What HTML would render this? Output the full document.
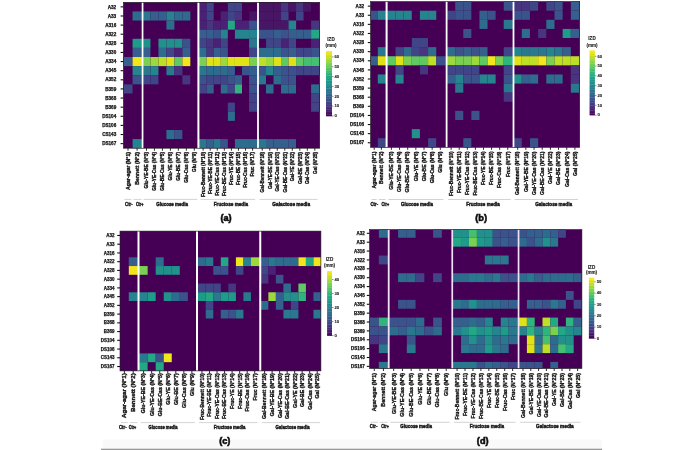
<!DOCTYPE html><html><head><meta charset="utf-8"><style>html,body{margin:0;padding:0;background:#fff;width:700px;height:450px;overflow:hidden}svg{display:block}text{font-family:"Liberation Sans",sans-serif}</style></head><body>
<svg width="700" height="450" viewBox="0 0 700 450">
<defs><linearGradient id="vir" x1="0" y1="1" x2="0" y2="0">
<stop offset="0.00" stop-color="#440154"/>
<stop offset="0.10" stop-color="#482475"/>
<stop offset="0.20" stop-color="#414487"/>
<stop offset="0.30" stop-color="#355f8d"/>
<stop offset="0.40" stop-color="#2a788e"/>
<stop offset="0.50" stop-color="#21918c"/>
<stop offset="0.60" stop-color="#22a884"/>
<stop offset="0.70" stop-color="#44bf70"/>
<stop offset="0.80" stop-color="#7ad151"/>
<stop offset="0.90" stop-color="#bddf26"/>
<stop offset="1.00" stop-color="#440256"/>
</linearGradient><filter id="bl" x="0" y="0" width="700" height="450" filterUnits="userSpaceOnUse"><feGaussianBlur stdDeviation="0.3"/></filter></defs>
<g filter="url(#bl)">
<rect x="0" y="0" width="700" height="450" fill="#fff"/>
<rect x="103" y="439.5" width="499" height="9.5" fill="#f9f9f9"/>
<rect x="101" y="448.7" width="501" height="1.3" fill="#999"/>
<g>
<rect x="123.4" y="2.3" width="196.3" height="145.9" fill="#440154"/>
<rect x="198.4" y="2.3" width="8.24" height="9.12" fill="#482475"/>
<rect x="206.64" y="2.3" width="7.07" height="9.12" fill="#414487"/>
<rect x="227.85" y="2.3" width="7.07" height="9.12" fill="#414487"/>
<rect x="234.93" y="2.3" width="7.07" height="9.12" fill="#414487"/>
<rect x="258" y="2.3" width="8.01" height="9.12" fill="#471365"/>
<rect x="266.01" y="2.3" width="7.51" height="9.12" fill="#471365"/>
<rect x="273.52" y="2.3" width="7.51" height="9.12" fill="#471365"/>
<rect x="281.04" y="2.3" width="7.51" height="9.12" fill="#463480"/>
<rect x="288.55" y="2.3" width="7.51" height="9.12" fill="#471365"/>
<rect x="296.06" y="2.3" width="7.51" height="9.12" fill="#463480"/>
<rect x="303.58" y="2.3" width="7.51" height="9.12" fill="#471365"/>
<rect x="132.55" y="11.42" width="10" height="9.12" fill="#2f6c8e"/>
<rect x="142.55" y="11.42" width="7.92" height="9.12" fill="#2a788e"/>
<rect x="150.47" y="11.42" width="7.97" height="9.12" fill="#355f8d"/>
<rect x="158.44" y="11.42" width="7.97" height="9.12" fill="#355f8d"/>
<rect x="166.41" y="11.42" width="7.97" height="9.12" fill="#25848e"/>
<rect x="174.39" y="11.42" width="7.97" height="9.12" fill="#2f6c8e"/>
<rect x="182.36" y="11.42" width="7.97" height="9.12" fill="#2f6c8e"/>
<rect x="198.4" y="11.42" width="8.24" height="9.12" fill="#482475"/>
<rect x="206.64" y="11.42" width="7.07" height="9.12" fill="#414487"/>
<rect x="220.78" y="11.42" width="7.07" height="9.12" fill="#482475"/>
<rect x="227.85" y="11.42" width="7.07" height="9.12" fill="#414487"/>
<rect x="234.93" y="11.42" width="7.07" height="9.12" fill="#463480"/>
<rect x="249.07" y="11.42" width="8.93" height="9.12" fill="#471365"/>
<rect x="258" y="11.42" width="8.01" height="9.12" fill="#471365"/>
<rect x="266.01" y="11.42" width="7.51" height="9.12" fill="#471365"/>
<rect x="273.52" y="11.42" width="7.51" height="9.12" fill="#471365"/>
<rect x="281.04" y="11.42" width="7.51" height="9.12" fill="#414487"/>
<rect x="296.06" y="11.42" width="7.51" height="9.12" fill="#414487"/>
<rect x="166.41" y="20.54" width="7.97" height="9.12" fill="#2f6c8e"/>
<rect x="198.4" y="20.54" width="8.24" height="9.12" fill="#482475"/>
<rect x="206.64" y="20.54" width="7.07" height="9.12" fill="#463480"/>
<rect x="213.71" y="20.54" width="7.07" height="9.12" fill="#482475"/>
<rect x="220.78" y="20.54" width="7.07" height="9.12" fill="#482475"/>
<rect x="227.85" y="20.54" width="7.07" height="9.12" fill="#22a884"/>
<rect x="234.93" y="20.54" width="7.07" height="9.12" fill="#482475"/>
<rect x="242" y="20.54" width="7.07" height="9.12" fill="#482475"/>
<rect x="249.07" y="20.54" width="8.93" height="9.12" fill="#3b528b"/>
<rect x="258" y="20.54" width="8.01" height="9.12" fill="#471365"/>
<rect x="266.01" y="20.54" width="7.51" height="9.12" fill="#471365"/>
<rect x="273.52" y="20.54" width="7.51" height="9.12" fill="#471365"/>
<rect x="281.04" y="20.54" width="7.51" height="9.12" fill="#471365"/>
<rect x="288.55" y="20.54" width="7.51" height="9.12" fill="#25848e"/>
<rect x="311.09" y="20.54" width="8.61" height="9.12" fill="#463480"/>
<rect x="198.4" y="29.66" width="8.24" height="9.12" fill="#355f8d"/>
<rect x="206.64" y="29.66" width="7.07" height="9.12" fill="#355f8d"/>
<rect x="213.71" y="29.66" width="7.07" height="9.12" fill="#3b528b"/>
<rect x="220.78" y="29.66" width="7.07" height="9.12" fill="#25848e"/>
<rect x="234.93" y="29.66" width="7.07" height="9.12" fill="#25848e"/>
<rect x="242" y="29.66" width="7.07" height="9.12" fill="#25848e"/>
<rect x="249.07" y="29.66" width="8.93" height="9.12" fill="#25848e"/>
<rect x="258" y="29.66" width="8.01" height="9.12" fill="#3b528b"/>
<rect x="266.01" y="29.66" width="7.51" height="9.12" fill="#3b528b"/>
<rect x="273.52" y="29.66" width="7.51" height="9.12" fill="#355f8d"/>
<rect x="281.04" y="29.66" width="7.51" height="9.12" fill="#3b528b"/>
<rect x="288.55" y="29.66" width="7.51" height="9.12" fill="#355f8d"/>
<rect x="296.06" y="29.66" width="7.51" height="9.12" fill="#355f8d"/>
<rect x="303.58" y="29.66" width="7.51" height="9.12" fill="#355f8d"/>
<rect x="311.09" y="29.66" width="8.61" height="9.12" fill="#22a884"/>
<rect x="132.55" y="38.77" width="10" height="9.12" fill="#1e9c89"/>
<rect x="142.55" y="38.77" width="7.92" height="9.12" fill="#21918c"/>
<rect x="158.44" y="38.77" width="7.97" height="9.12" fill="#21918c"/>
<rect x="166.41" y="38.77" width="7.97" height="9.12" fill="#21918c"/>
<rect x="174.39" y="38.77" width="7.97" height="9.12" fill="#21918c"/>
<rect x="182.36" y="38.77" width="7.97" height="9.12" fill="#3b528b"/>
<rect x="198.4" y="38.77" width="8.24" height="9.12" fill="#414487"/>
<rect x="206.64" y="38.77" width="7.07" height="9.12" fill="#463480"/>
<rect x="213.71" y="38.77" width="7.07" height="9.12" fill="#482475"/>
<rect x="220.78" y="38.77" width="7.07" height="9.12" fill="#414487"/>
<rect x="249.07" y="38.77" width="8.93" height="9.12" fill="#2a788e"/>
<rect x="266.01" y="38.77" width="7.51" height="9.12" fill="#414487"/>
<rect x="273.52" y="38.77" width="7.51" height="9.12" fill="#414487"/>
<rect x="281.04" y="38.77" width="7.51" height="9.12" fill="#482475"/>
<rect x="288.55" y="38.77" width="7.51" height="9.12" fill="#414487"/>
<rect x="311.09" y="38.77" width="8.61" height="9.12" fill="#482475"/>
<rect x="132.55" y="47.89" width="10" height="9.12" fill="#355f8d"/>
<rect x="142.55" y="47.89" width="7.92" height="9.12" fill="#355f8d"/>
<rect x="158.44" y="47.89" width="7.97" height="9.12" fill="#2f6c8e"/>
<rect x="166.41" y="47.89" width="7.97" height="9.12" fill="#414487"/>
<rect x="174.39" y="47.89" width="7.97" height="9.12" fill="#482475"/>
<rect x="182.36" y="47.89" width="7.97" height="9.12" fill="#355f8d"/>
<rect x="198.4" y="47.89" width="8.24" height="9.12" fill="#2f6c8e"/>
<rect x="206.64" y="47.89" width="7.07" height="9.12" fill="#463480"/>
<rect x="213.71" y="47.89" width="7.07" height="9.12" fill="#355f8d"/>
<rect x="220.78" y="47.89" width="7.07" height="9.12" fill="#3b528b"/>
<rect x="249.07" y="47.89" width="8.93" height="9.12" fill="#414487"/>
<rect x="258" y="47.89" width="8.01" height="9.12" fill="#2f6c8e"/>
<rect x="266.01" y="47.89" width="7.51" height="9.12" fill="#2f6c8e"/>
<rect x="273.52" y="47.89" width="7.51" height="9.12" fill="#2f6c8e"/>
<rect x="281.04" y="47.89" width="7.51" height="9.12" fill="#3b528b"/>
<rect x="288.55" y="47.89" width="7.51" height="9.12" fill="#355f8d"/>
<rect x="296.06" y="47.89" width="7.51" height="9.12" fill="#414487"/>
<rect x="303.58" y="47.89" width="7.51" height="9.12" fill="#414487"/>
<rect x="311.09" y="47.89" width="8.61" height="9.12" fill="#3b528b"/>
<rect x="123.4" y="57.01" width="9.15" height="9.12" fill="#355f8d"/>
<rect x="132.55" y="57.01" width="10" height="9.12" fill="#f1e51d"/>
<rect x="142.55" y="57.01" width="7.92" height="9.12" fill="#7ad151"/>
<rect x="150.47" y="57.01" width="7.97" height="9.12" fill="#9bd93c"/>
<rect x="158.44" y="57.01" width="7.97" height="9.12" fill="#bddf26"/>
<rect x="166.41" y="57.01" width="7.97" height="9.12" fill="#dfe318"/>
<rect x="174.39" y="57.01" width="7.97" height="9.12" fill="#5ec962"/>
<rect x="182.36" y="57.01" width="7.97" height="9.12" fill="#f1e51d"/>
<rect x="198.4" y="57.01" width="8.24" height="9.12" fill="#7ad151"/>
<rect x="206.64" y="57.01" width="7.07" height="9.12" fill="#dfe318"/>
<rect x="213.71" y="57.01" width="7.07" height="9.12" fill="#dfe318"/>
<rect x="220.78" y="57.01" width="7.07" height="9.12" fill="#9bd93c"/>
<rect x="227.85" y="57.01" width="7.07" height="9.12" fill="#dfe318"/>
<rect x="234.93" y="57.01" width="7.07" height="9.12" fill="#dfe318"/>
<rect x="242" y="57.01" width="7.07" height="9.12" fill="#dfe318"/>
<rect x="249.07" y="57.01" width="8.93" height="9.12" fill="#7ad151"/>
<rect x="258" y="57.01" width="8.01" height="9.12" fill="#bddf26"/>
<rect x="266.01" y="57.01" width="7.51" height="9.12" fill="#9bd93c"/>
<rect x="273.52" y="57.01" width="7.51" height="9.12" fill="#dfe318"/>
<rect x="281.04" y="57.01" width="7.51" height="9.12" fill="#5ec962"/>
<rect x="288.55" y="57.01" width="7.51" height="9.12" fill="#dfe318"/>
<rect x="296.06" y="57.01" width="7.51" height="9.12" fill="#5ec962"/>
<rect x="303.58" y="57.01" width="7.51" height="9.12" fill="#44bf70"/>
<rect x="311.09" y="57.01" width="8.61" height="9.12" fill="#44bf70"/>
<rect x="132.55" y="66.13" width="10" height="9.12" fill="#25848e"/>
<rect x="142.55" y="66.13" width="7.92" height="9.12" fill="#2a788e"/>
<rect x="150.47" y="66.13" width="7.97" height="9.12" fill="#25848e"/>
<rect x="166.41" y="66.13" width="7.97" height="9.12" fill="#2a788e"/>
<rect x="174.39" y="66.13" width="7.97" height="9.12" fill="#463480"/>
<rect x="198.4" y="66.13" width="8.24" height="9.12" fill="#2a788e"/>
<rect x="206.64" y="66.13" width="7.07" height="9.12" fill="#2f6c8e"/>
<rect x="213.71" y="66.13" width="7.07" height="9.12" fill="#2f6c8e"/>
<rect x="220.78" y="66.13" width="7.07" height="9.12" fill="#2f6c8e"/>
<rect x="227.85" y="66.13" width="7.07" height="9.12" fill="#355f8d"/>
<rect x="242" y="66.13" width="7.07" height="9.12" fill="#3b528b"/>
<rect x="249.07" y="66.13" width="8.93" height="9.12" fill="#355f8d"/>
<rect x="258" y="66.13" width="8.01" height="9.12" fill="#3b528b"/>
<rect x="266.01" y="66.13" width="7.51" height="9.12" fill="#25848e"/>
<rect x="273.52" y="66.13" width="7.51" height="9.12" fill="#355f8d"/>
<rect x="281.04" y="66.13" width="7.51" height="9.12" fill="#3b528b"/>
<rect x="288.55" y="66.13" width="7.51" height="9.12" fill="#3b528b"/>
<rect x="296.06" y="66.13" width="7.51" height="9.12" fill="#414487"/>
<rect x="303.58" y="66.13" width="7.51" height="9.12" fill="#414487"/>
<rect x="311.09" y="66.13" width="8.61" height="9.12" fill="#414487"/>
<rect x="132.55" y="75.25" width="10" height="9.12" fill="#3b528b"/>
<rect x="142.55" y="75.25" width="7.92" height="9.12" fill="#414487"/>
<rect x="150.47" y="75.25" width="7.97" height="9.12" fill="#414487"/>
<rect x="182.36" y="75.25" width="7.97" height="9.12" fill="#463480"/>
<rect x="198.4" y="75.25" width="8.24" height="9.12" fill="#3b528b"/>
<rect x="206.64" y="75.25" width="7.07" height="9.12" fill="#414487"/>
<rect x="213.71" y="75.25" width="7.07" height="9.12" fill="#414487"/>
<rect x="220.78" y="75.25" width="7.07" height="9.12" fill="#414487"/>
<rect x="227.85" y="75.25" width="7.07" height="9.12" fill="#3b528b"/>
<rect x="234.93" y="75.25" width="7.07" height="9.12" fill="#355f8d"/>
<rect x="249.07" y="75.25" width="8.93" height="9.12" fill="#3b528b"/>
<rect x="258" y="75.25" width="8.01" height="9.12" fill="#2a788e"/>
<rect x="273.52" y="75.25" width="7.51" height="9.12" fill="#2f6c8e"/>
<rect x="281.04" y="75.25" width="7.51" height="9.12" fill="#3b528b"/>
<rect x="288.55" y="75.25" width="7.51" height="9.12" fill="#3b528b"/>
<rect x="123.4" y="84.37" width="9.15" height="9.12" fill="#414487"/>
<rect x="198.4" y="84.37" width="8.24" height="9.12" fill="#414487"/>
<rect x="206.64" y="84.37" width="7.07" height="9.12" fill="#355f8d"/>
<rect x="220.78" y="84.37" width="7.07" height="9.12" fill="#2f6c8e"/>
<rect x="227.85" y="84.37" width="7.07" height="9.12" fill="#414487"/>
<rect x="234.93" y="84.37" width="7.07" height="9.12" fill="#2fb47c"/>
<rect x="249.07" y="84.37" width="8.93" height="9.12" fill="#3b528b"/>
<rect x="266.01" y="84.37" width="7.51" height="9.12" fill="#2f6c8e"/>
<rect x="281.04" y="84.37" width="7.51" height="9.12" fill="#2f6c8e"/>
<rect x="288.55" y="84.37" width="7.51" height="9.12" fill="#2f6c8e"/>
<rect x="311.09" y="84.37" width="8.61" height="9.12" fill="#2f6c8e"/>
<rect x="249.07" y="93.49" width="8.93" height="9.12" fill="#414487"/>
<rect x="311.09" y="93.49" width="8.61" height="9.12" fill="#414487"/>
<rect x="227.85" y="102.61" width="7.07" height="9.12" fill="#414487"/>
<rect x="249.07" y="102.61" width="8.93" height="9.12" fill="#414487"/>
<rect x="311.09" y="102.61" width="8.61" height="9.12" fill="#414487"/>
<rect x="227.85" y="111.72" width="7.07" height="9.12" fill="#2f6c8e"/>
<rect x="166.41" y="129.96" width="7.97" height="9.12" fill="#2f6c8e"/>
<rect x="174.39" y="129.96" width="7.97" height="9.12" fill="#3b528b"/>
<rect x="132.55" y="139.08" width="10" height="9.12" fill="#25848e"/>
<rect x="198.4" y="139.08" width="8.24" height="9.12" fill="#2a788e"/>
<rect x="206.64" y="139.08" width="7.07" height="9.12" fill="#355f8d"/>
<rect x="213.71" y="139.08" width="7.07" height="9.12" fill="#2a788e"/>
<rect x="220.78" y="139.08" width="7.07" height="9.12" fill="#3b528b"/>
<rect x="234.93" y="139.08" width="7.07" height="9.12" fill="#2f6c8e"/>
<rect x="242" y="139.08" width="7.07" height="9.12" fill="#2f6c8e"/>
<rect x="249.07" y="139.08" width="8.93" height="9.12" fill="#2f6c8e"/>
<rect x="258" y="139.08" width="8.01" height="9.12" fill="#2a788e"/>
<rect x="266.01" y="139.08" width="7.51" height="9.12" fill="#355f8d"/>
<rect x="273.52" y="139.08" width="7.51" height="9.12" fill="#355f8d"/>
<rect x="281.04" y="139.08" width="7.51" height="9.12" fill="#355f8d"/>
<rect x="288.55" y="139.08" width="7.51" height="9.12" fill="#355f8d"/>
<rect x="141.7" y="2.3" width="1.7" height="145.9" fill="#ffffff"/>
<rect x="197.4" y="2.3" width="2" height="145.9" fill="#ffffff"/>
<rect x="257.1" y="2.3" width="1.8" height="145.9" fill="#ffffff"/>
<rect x="123.4" y="2.3" width="196.3" height="145.9" fill="none" stroke="#1a1a1a" stroke-width="0.6"/>
<line x1="120.6" y1="6.86" x2="123.4" y2="6.86" stroke="#111" stroke-width="1.1"/>
<text x="116.2" y="8.52" font-size="4.6" font-weight="bold" fill="#111" stroke="#111" stroke-width="0.25" text-anchor="end">A32</text>
<line x1="120.6" y1="15.98" x2="123.4" y2="15.98" stroke="#111" stroke-width="1.1"/>
<text x="116.2" y="17.63" font-size="4.6" font-weight="bold" fill="#111" stroke="#111" stroke-width="0.25" text-anchor="end">A33</text>
<line x1="120.6" y1="25.1" x2="123.4" y2="25.1" stroke="#111" stroke-width="1.1"/>
<text x="116.2" y="26.75" font-size="4.6" font-weight="bold" fill="#111" stroke="#111" stroke-width="0.25" text-anchor="end">A316</text>
<line x1="120.6" y1="34.22" x2="123.4" y2="34.22" stroke="#111" stroke-width="1.1"/>
<text x="116.2" y="35.87" font-size="4.6" font-weight="bold" fill="#111" stroke="#111" stroke-width="0.25" text-anchor="end">A322</text>
<line x1="120.6" y1="43.33" x2="123.4" y2="43.33" stroke="#111" stroke-width="1.1"/>
<text x="116.2" y="44.99" font-size="4.6" font-weight="bold" fill="#111" stroke="#111" stroke-width="0.25" text-anchor="end">A328</text>
<line x1="120.6" y1="52.45" x2="123.4" y2="52.45" stroke="#111" stroke-width="1.1"/>
<text x="116.2" y="54.11" font-size="4.6" font-weight="bold" fill="#111" stroke="#111" stroke-width="0.25" text-anchor="end">A330</text>
<line x1="120.6" y1="61.57" x2="123.4" y2="61.57" stroke="#111" stroke-width="1.1"/>
<text x="116.2" y="63.23" font-size="4.6" font-weight="bold" fill="#111" stroke="#111" stroke-width="0.25" text-anchor="end">A334</text>
<line x1="120.6" y1="70.69" x2="123.4" y2="70.69" stroke="#111" stroke-width="1.1"/>
<text x="116.2" y="72.35" font-size="4.6" font-weight="bold" fill="#111" stroke="#111" stroke-width="0.25" text-anchor="end">A345</text>
<line x1="120.6" y1="79.81" x2="123.4" y2="79.81" stroke="#111" stroke-width="1.1"/>
<text x="116.2" y="81.47" font-size="4.6" font-weight="bold" fill="#111" stroke="#111" stroke-width="0.25" text-anchor="end">A352</text>
<line x1="120.6" y1="88.93" x2="123.4" y2="88.93" stroke="#111" stroke-width="1.1"/>
<text x="116.2" y="90.58" font-size="4.6" font-weight="bold" fill="#111" stroke="#111" stroke-width="0.25" text-anchor="end">B359</text>
<line x1="120.6" y1="98.05" x2="123.4" y2="98.05" stroke="#111" stroke-width="1.1"/>
<text x="116.2" y="99.7" font-size="4.6" font-weight="bold" fill="#111" stroke="#111" stroke-width="0.25" text-anchor="end">B368</text>
<line x1="120.6" y1="107.17" x2="123.4" y2="107.17" stroke="#111" stroke-width="1.1"/>
<text x="116.2" y="108.82" font-size="4.6" font-weight="bold" fill="#111" stroke="#111" stroke-width="0.25" text-anchor="end">B369</text>
<line x1="120.6" y1="116.28" x2="123.4" y2="116.28" stroke="#111" stroke-width="1.1"/>
<text x="116.2" y="117.94" font-size="4.6" font-weight="bold" fill="#111" stroke="#111" stroke-width="0.25" text-anchor="end">DS104</text>
<line x1="120.6" y1="125.4" x2="123.4" y2="125.4" stroke="#111" stroke-width="1.1"/>
<text x="116.2" y="127.06" font-size="4.6" font-weight="bold" fill="#111" stroke="#111" stroke-width="0.25" text-anchor="end">DS106</text>
<line x1="120.6" y1="134.52" x2="123.4" y2="134.52" stroke="#111" stroke-width="1.1"/>
<text x="116.2" y="136.18" font-size="4.6" font-weight="bold" fill="#111" stroke="#111" stroke-width="0.25" text-anchor="end">CS143</text>
<line x1="120.6" y1="143.64" x2="123.4" y2="143.64" stroke="#111" stroke-width="1.1"/>
<text x="116.2" y="145.3" font-size="4.6" font-weight="bold" fill="#111" stroke="#111" stroke-width="0.25" text-anchor="end">DS167</text>
<line x1="128" y1="148.2" x2="128" y2="150.7" stroke="#111" stroke-width="0.9"/>
<text transform="translate(129.76 152) rotate(-90)" font-size="4.9" font-weight="bold" fill="#151515" stroke="#151515" stroke-width="0.35" text-anchor="end" textLength="38" lengthAdjust="spacingAndGlyphs">Agar-agar (N°1)</text>
<line x1="137.1" y1="148.2" x2="137.1" y2="150.7" stroke="#111" stroke-width="0.9"/>
<text transform="translate(138.86 152) rotate(-90)" font-size="4.9" font-weight="bold" fill="#151515" stroke="#151515" stroke-width="0.35" text-anchor="end" textLength="32.7" lengthAdjust="spacingAndGlyphs">Bennett (N°2)</text>
<line x1="146.49" y1="148.2" x2="146.49" y2="150.7" stroke="#111" stroke-width="0.9"/>
<text transform="translate(148.25 152) rotate(-90)" font-size="4.9" font-weight="bold" fill="#151515" stroke="#151515" stroke-width="0.35" text-anchor="end" textLength="36.4" lengthAdjust="spacingAndGlyphs">Glu-YE-BE (N°3)</text>
<line x1="154.46" y1="148.2" x2="154.46" y2="150.7" stroke="#111" stroke-width="0.9"/>
<text transform="translate(156.22 152) rotate(-90)" font-size="4.9" font-weight="bold" fill="#151515" stroke="#151515" stroke-width="0.35" text-anchor="end" textLength="38.7" lengthAdjust="spacingAndGlyphs">Glu-YE-Cas (N°4)</text>
<line x1="162.43" y1="148.2" x2="162.43" y2="150.7" stroke="#111" stroke-width="0.9"/>
<text transform="translate(164.19 152) rotate(-90)" font-size="4.9" font-weight="bold" fill="#151515" stroke="#151515" stroke-width="0.35" text-anchor="end" textLength="38.7" lengthAdjust="spacingAndGlyphs">Glu-BE-Cas (N°5)</text>
<line x1="170.4" y1="148.2" x2="170.4" y2="150.7" stroke="#111" stroke-width="0.9"/>
<text transform="translate(172.16 152) rotate(-90)" font-size="4.9" font-weight="bold" fill="#151515" stroke="#151515" stroke-width="0.35" text-anchor="end" textLength="28.4" lengthAdjust="spacingAndGlyphs">Glu-YE (N°6)</text>
<line x1="178.37" y1="148.2" x2="178.37" y2="150.7" stroke="#111" stroke-width="0.9"/>
<text transform="translate(180.14 152) rotate(-90)" font-size="4.9" font-weight="bold" fill="#151515" stroke="#151515" stroke-width="0.35" text-anchor="end" textLength="28.7" lengthAdjust="spacingAndGlyphs">Glu-BE (N°7)</text>
<line x1="186.34" y1="148.2" x2="186.34" y2="150.7" stroke="#111" stroke-width="0.9"/>
<text transform="translate(188.11 152) rotate(-90)" font-size="4.9" font-weight="bold" fill="#151515" stroke="#151515" stroke-width="0.35" text-anchor="end" textLength="30.7" lengthAdjust="spacingAndGlyphs">Glu-Cas (N°8)</text>
<line x1="194.31" y1="148.2" x2="194.31" y2="150.7" stroke="#111" stroke-width="0.9"/>
<text transform="translate(196.08 152) rotate(-90)" font-size="4.9" font-weight="bold" fill="#151515" stroke="#151515" stroke-width="0.35" text-anchor="end" textLength="20" lengthAdjust="spacingAndGlyphs">Glu (N°9)</text>
<line x1="203.11" y1="148.2" x2="203.11" y2="150.7" stroke="#111" stroke-width="0.9"/>
<text transform="translate(204.87 152) rotate(-90)" font-size="4.9" font-weight="bold" fill="#151515" stroke="#151515" stroke-width="0.35" text-anchor="end" textLength="45.1" lengthAdjust="spacingAndGlyphs">Fruc-Bennett (N°10)</text>
<line x1="210.18" y1="148.2" x2="210.18" y2="150.7" stroke="#111" stroke-width="0.9"/>
<text transform="translate(211.94 152) rotate(-90)" font-size="4.9" font-weight="bold" fill="#151515" stroke="#151515" stroke-width="0.35" text-anchor="end" textLength="41.9" lengthAdjust="spacingAndGlyphs">Fruc-YE-BE (N°11)</text>
<line x1="217.25" y1="148.2" x2="217.25" y2="150.7" stroke="#111" stroke-width="0.9"/>
<text transform="translate(219.01 152) rotate(-90)" font-size="4.9" font-weight="bold" fill="#151515" stroke="#151515" stroke-width="0.35" text-anchor="end" textLength="43.8" lengthAdjust="spacingAndGlyphs">Fruc-YE-Cas (N°12)</text>
<line x1="224.32" y1="148.2" x2="224.32" y2="150.7" stroke="#111" stroke-width="0.9"/>
<text transform="translate(226.08 152) rotate(-90)" font-size="4.9" font-weight="bold" fill="#151515" stroke="#151515" stroke-width="0.35" text-anchor="end" textLength="44.1" lengthAdjust="spacingAndGlyphs">Fruc-BE-Cas (N°13)</text>
<line x1="231.39" y1="148.2" x2="231.39" y2="150.7" stroke="#111" stroke-width="0.9"/>
<text transform="translate(233.15 152) rotate(-90)" font-size="4.9" font-weight="bold" fill="#151515" stroke="#151515" stroke-width="0.35" text-anchor="end" textLength="33" lengthAdjust="spacingAndGlyphs">Fruc-YE (N°14)</text>
<line x1="238.46" y1="148.2" x2="238.46" y2="150.7" stroke="#111" stroke-width="0.9"/>
<text transform="translate(240.23 152) rotate(-90)" font-size="4.9" font-weight="bold" fill="#151515" stroke="#151515" stroke-width="0.35" text-anchor="end" textLength="33" lengthAdjust="spacingAndGlyphs">Fruc-BE (N°15)</text>
<line x1="245.53" y1="148.2" x2="245.53" y2="150.7" stroke="#111" stroke-width="0.9"/>
<text transform="translate(247.3 152) rotate(-90)" font-size="4.9" font-weight="bold" fill="#151515" stroke="#151515" stroke-width="0.35" text-anchor="end" textLength="35.8" lengthAdjust="spacingAndGlyphs">Fruc-Cas (N°16)</text>
<line x1="252.6" y1="148.2" x2="252.6" y2="150.7" stroke="#111" stroke-width="0.9"/>
<text transform="translate(254.37 152) rotate(-90)" font-size="4.9" font-weight="bold" fill="#151515" stroke="#151515" stroke-width="0.35" text-anchor="end" textLength="24.6" lengthAdjust="spacingAndGlyphs">Fruc (N°17)</text>
<line x1="262.26" y1="148.2" x2="262.26" y2="150.7" stroke="#111" stroke-width="0.9"/>
<text transform="translate(264.02 152) rotate(-90)" font-size="4.9" font-weight="bold" fill="#151515" stroke="#151515" stroke-width="0.35" text-anchor="end" textLength="40.4" lengthAdjust="spacingAndGlyphs">Gal-Bennett (N°18)</text>
<line x1="269.77" y1="148.2" x2="269.77" y2="150.7" stroke="#111" stroke-width="0.9"/>
<text transform="translate(271.53 152) rotate(-90)" font-size="4.9" font-weight="bold" fill="#151515" stroke="#151515" stroke-width="0.35" text-anchor="end" textLength="37.1" lengthAdjust="spacingAndGlyphs">Gal-YE-BE (N°19)</text>
<line x1="277.28" y1="148.2" x2="277.28" y2="150.7" stroke="#111" stroke-width="0.9"/>
<text transform="translate(279.05 152) rotate(-90)" font-size="4.9" font-weight="bold" fill="#151515" stroke="#151515" stroke-width="0.35" text-anchor="end" textLength="39.5" lengthAdjust="spacingAndGlyphs">Gal-YE-Cas (N°20)</text>
<line x1="284.79" y1="148.2" x2="284.79" y2="150.7" stroke="#111" stroke-width="0.9"/>
<text transform="translate(286.56 152) rotate(-90)" font-size="4.9" font-weight="bold" fill="#151515" stroke="#151515" stroke-width="0.35" text-anchor="end" textLength="40.4" lengthAdjust="spacingAndGlyphs">Gal-BE-Cas (N°21)</text>
<line x1="292.31" y1="148.2" x2="292.31" y2="150.7" stroke="#111" stroke-width="0.9"/>
<text transform="translate(294.07 152) rotate(-90)" font-size="4.9" font-weight="bold" fill="#151515" stroke="#151515" stroke-width="0.35" text-anchor="end" textLength="29.3" lengthAdjust="spacingAndGlyphs">Gal-YE (N°22)</text>
<line x1="299.82" y1="148.2" x2="299.82" y2="150.7" stroke="#111" stroke-width="0.9"/>
<text transform="translate(301.58 152) rotate(-90)" font-size="4.9" font-weight="bold" fill="#151515" stroke="#151515" stroke-width="0.35" text-anchor="end" textLength="32.1" lengthAdjust="spacingAndGlyphs">Gal-BE (N°23)</text>
<line x1="307.33" y1="148.2" x2="307.33" y2="150.7" stroke="#111" stroke-width="0.9"/>
<text transform="translate(309.1 152) rotate(-90)" font-size="4.9" font-weight="bold" fill="#151515" stroke="#151515" stroke-width="0.35" text-anchor="end" textLength="32.1" lengthAdjust="spacingAndGlyphs">Gal-Cas (N°24)</text>
<line x1="314.84" y1="148.2" x2="314.84" y2="150.7" stroke="#111" stroke-width="0.9"/>
<text transform="translate(316.61 152) rotate(-90)" font-size="4.9" font-weight="bold" fill="#151515" stroke="#151515" stroke-width="0.35" text-anchor="end" textLength="21.9" lengthAdjust="spacingAndGlyphs">Gal (N°25)</text>
<line x1="124.4" y1="199.4" x2="131.55" y2="199.4" stroke="#c8c8c8" stroke-width="0.8"/>
<text x="128.9" y="206" font-size="5" font-weight="bold" fill="#1a1a1a" stroke="#1a1a1a" stroke-width="0.4" text-anchor="middle" textLength="7.6" lengthAdjust="spacingAndGlyphs">Ctr-</text>
<line x1="133.55" y1="199.4" x2="141.55" y2="199.4" stroke="#c8c8c8" stroke-width="0.8"/>
<text x="139.7" y="206" font-size="5" font-weight="bold" fill="#1a1a1a" stroke="#1a1a1a" stroke-width="0.4" text-anchor="middle" textLength="7.6" lengthAdjust="spacingAndGlyphs">Ctr+</text>
<line x1="143.5" y1="199.4" x2="197.3" y2="199.4" stroke="#c8c8c8" stroke-width="0.8"/>
<text x="172.1" y="206" font-size="5.2" font-weight="bold" fill="#1a1a1a" stroke="#1a1a1a" stroke-width="0.45" text-anchor="middle" textLength="31.7" lengthAdjust="spacingAndGlyphs">Glucose media</text>
<line x1="200.57" y1="199.4" x2="255.14" y2="199.4" stroke="#c8c8c8" stroke-width="0.8"/>
<text x="230.9" y="206" font-size="5.2" font-weight="bold" fill="#1a1a1a" stroke="#1a1a1a" stroke-width="0.45" text-anchor="middle" textLength="34.3" lengthAdjust="spacingAndGlyphs">Fructose media</text>
<line x1="259.5" y1="199.4" x2="317.6" y2="199.4" stroke="#c8c8c8" stroke-width="0.8"/>
<text x="291.2" y="206" font-size="5.2" font-weight="bold" fill="#1a1a1a" stroke="#1a1a1a" stroke-width="0.45" text-anchor="middle" textLength="37.7" lengthAdjust="spacingAndGlyphs">Galactose media</text>
<text x="226" y="220.9" font-size="9.2" font-weight="bold" fill="#111" stroke="#111" stroke-width="0.6" text-anchor="middle">(a)</text>
<rect x="326" y="114.38" width="6" height="1.93" fill="#450559"/>
<rect x="326" y="112.75" width="6" height="1.93" fill="#470e61"/>
<rect x="326" y="111.12" width="6" height="1.93" fill="#48186a"/>
<rect x="326" y="109.5" width="6" height="1.93" fill="#482071"/>
<rect x="326" y="107.88" width="6" height="1.93" fill="#482878"/>
<rect x="326" y="106.25" width="6" height="1.93" fill="#46307e"/>
<rect x="326" y="104.62" width="6" height="1.93" fill="#453882"/>
<rect x="326" y="103" width="6" height="1.93" fill="#424086"/>
<rect x="326" y="101.38" width="6" height="1.93" fill="#3f4788"/>
<rect x="326" y="99.75" width="6" height="1.93" fill="#3d4e8a"/>
<rect x="326" y="98.12" width="6" height="1.93" fill="#39558c"/>
<rect x="326" y="96.5" width="6" height="1.93" fill="#365c8d"/>
<rect x="326" y="94.88" width="6" height="1.93" fill="#33638d"/>
<rect x="326" y="93.25" width="6" height="1.93" fill="#30698e"/>
<rect x="326" y="91.62" width="6" height="1.93" fill="#2e6f8e"/>
<rect x="326" y="90" width="6" height="1.93" fill="#2b758e"/>
<rect x="326" y="88.38" width="6" height="1.93" fill="#297b8e"/>
<rect x="326" y="86.75" width="6" height="1.93" fill="#26828e"/>
<rect x="326" y="85.12" width="6" height="1.93" fill="#24878e"/>
<rect x="326" y="83.5" width="6" height="1.93" fill="#228d8d"/>
<rect x="326" y="81.88" width="6" height="1.93" fill="#20938c"/>
<rect x="326" y="80.25" width="6" height="1.93" fill="#1f998a"/>
<rect x="326" y="78.62" width="6" height="1.93" fill="#1fa088"/>
<rect x="326" y="77" width="6" height="1.93" fill="#21a585"/>
<rect x="326" y="75.38" width="6" height="1.93" fill="#25ab82"/>
<rect x="326" y="73.75" width="6" height="1.93" fill="#2cb17e"/>
<rect x="326" y="72.12" width="6" height="1.93" fill="#34b679"/>
<rect x="326" y="70.5" width="6" height="1.93" fill="#3fbc73"/>
<rect x="326" y="68.88" width="6" height="1.93" fill="#4ac16d"/>
<rect x="326" y="67.25" width="6" height="1.93" fill="#56c667"/>
<rect x="326" y="65.62" width="6" height="1.93" fill="#65cb5e"/>
<rect x="326" y="64" width="6" height="1.93" fill="#73d056"/>
<rect x="326" y="62.38" width="6" height="1.93" fill="#84d44b"/>
<rect x="326" y="60.75" width="6" height="1.93" fill="#93d741"/>
<rect x="326" y="59.12" width="6" height="1.93" fill="#a2da37"/>
<rect x="326" y="57.5" width="6" height="1.93" fill="#b5de2b"/>
<rect x="326" y="55.88" width="6" height="1.93" fill="#c5e021"/>
<rect x="326" y="54.25" width="6" height="1.93" fill="#d8e219"/>
<rect x="326" y="52.62" width="6" height="1.93" fill="#e7e419"/>
<rect x="326" y="51" width="6" height="1.93" fill="#f6e620"/>
<line x1="332" y1="116" x2="333.5" y2="116" stroke="#222" stroke-width="0.5"/>
<text x="334.5" y="117.3" font-size="4.2" font-weight="bold" fill="#222" stroke="#222" stroke-width="0.1">0</text>
<line x1="332" y1="106.15" x2="333.5" y2="106.15" stroke="#222" stroke-width="0.5"/>
<text x="334.5" y="107.45" font-size="4.2" font-weight="bold" fill="#222" stroke="#222" stroke-width="0.1">10</text>
<line x1="332" y1="96.3" x2="333.5" y2="96.3" stroke="#222" stroke-width="0.5"/>
<text x="334.5" y="97.6" font-size="4.2" font-weight="bold" fill="#222" stroke="#222" stroke-width="0.1">20</text>
<line x1="332" y1="86.45" x2="333.5" y2="86.45" stroke="#222" stroke-width="0.5"/>
<text x="334.5" y="87.75" font-size="4.2" font-weight="bold" fill="#222" stroke="#222" stroke-width="0.1">30</text>
<line x1="332" y1="76.61" x2="333.5" y2="76.61" stroke="#222" stroke-width="0.5"/>
<text x="334.5" y="77.91" font-size="4.2" font-weight="bold" fill="#222" stroke="#222" stroke-width="0.1">40</text>
<line x1="332" y1="66.76" x2="333.5" y2="66.76" stroke="#222" stroke-width="0.5"/>
<text x="334.5" y="68.06" font-size="4.2" font-weight="bold" fill="#222" stroke="#222" stroke-width="0.1">50</text>
<line x1="332" y1="56.91" x2="333.5" y2="56.91" stroke="#222" stroke-width="0.5"/>
<text x="334.5" y="58.21" font-size="4.2" font-weight="bold" fill="#222" stroke="#222" stroke-width="0.1">60</text>
<text x="331" y="40.6" font-size="4.6" font-weight="bold" fill="#222" stroke="#222" stroke-width="0.12" text-anchor="middle">IZD</text>
<text x="331" y="47.4" font-size="4.6" font-weight="bold" fill="#222" stroke="#222" stroke-width="0.12" text-anchor="middle">(mm)</text>
</g>
<g>
<rect x="370.6" y="1.6" width="209.1" height="145.7" fill="#440154"/>
<rect x="455.19" y="1.6" width="8.09" height="9.11" fill="#3b528b"/>
<rect x="463.28" y="1.6" width="8.09" height="9.11" fill="#3b528b"/>
<rect x="503.71" y="1.6" width="9.79" height="9.11" fill="#3b528b"/>
<rect x="513.5" y="1.6" width="8.27" height="9.11" fill="#463480"/>
<rect x="521.77" y="1.6" width="8.18" height="9.11" fill="#463480"/>
<rect x="529.95" y="1.6" width="8.17" height="9.11" fill="#414487"/>
<rect x="546.3" y="1.6" width="8.18" height="9.11" fill="#414487"/>
<rect x="554.48" y="1.6" width="8.17" height="9.11" fill="#3b528b"/>
<rect x="570.83" y="1.6" width="8.88" height="9.11" fill="#355f8d"/>
<rect x="370.6" y="10.71" width="7.2" height="9.11" fill="#3b528b"/>
<rect x="377.8" y="10.71" width="8.8" height="9.11" fill="#25848e"/>
<rect x="386.6" y="10.71" width="8.86" height="9.11" fill="#25848e"/>
<rect x="395.46" y="10.71" width="8.16" height="9.11" fill="#25848e"/>
<rect x="403.61" y="10.71" width="8.16" height="9.11" fill="#25848e"/>
<rect x="419.93" y="10.71" width="8.16" height="9.11" fill="#25848e"/>
<rect x="428.09" y="10.71" width="8.16" height="9.11" fill="#25848e"/>
<rect x="446.6" y="10.71" width="8.59" height="9.11" fill="#414487"/>
<rect x="455.19" y="10.71" width="8.09" height="9.11" fill="#3b528b"/>
<rect x="463.28" y="10.71" width="8.09" height="9.11" fill="#3b528b"/>
<rect x="479.45" y="10.71" width="8.09" height="9.11" fill="#355f8d"/>
<rect x="487.54" y="10.71" width="8.09" height="9.11" fill="#3b528b"/>
<rect x="513.5" y="10.71" width="8.27" height="9.11" fill="#3b528b"/>
<rect x="521.77" y="10.71" width="8.18" height="9.11" fill="#3b528b"/>
<rect x="554.48" y="10.71" width="8.17" height="9.11" fill="#3b528b"/>
<rect x="570.83" y="10.71" width="8.88" height="9.11" fill="#355f8d"/>
<rect x="479.45" y="19.81" width="8.09" height="9.11" fill="#2f6c8e"/>
<rect x="503.71" y="19.81" width="9.79" height="9.11" fill="#2a788e"/>
<rect x="546.3" y="19.81" width="8.18" height="9.11" fill="#2f6c8e"/>
<rect x="463.28" y="28.92" width="8.09" height="9.11" fill="#3b528b"/>
<rect x="521.77" y="28.92" width="8.18" height="9.11" fill="#2f6c8e"/>
<rect x="538.12" y="28.92" width="8.17" height="9.11" fill="#463480"/>
<rect x="562.65" y="28.92" width="8.18" height="9.11" fill="#1e9c89"/>
<rect x="570.83" y="28.92" width="8.88" height="9.11" fill="#355f8d"/>
<rect x="411.77" y="38.03" width="8.16" height="9.11" fill="#414487"/>
<rect x="419.93" y="38.03" width="8.16" height="9.11" fill="#414487"/>
<rect x="377.8" y="47.13" width="8.8" height="9.11" fill="#2a788e"/>
<rect x="395.46" y="47.13" width="8.16" height="9.11" fill="#414487"/>
<rect x="403.61" y="47.13" width="8.16" height="9.11" fill="#2f6c8e"/>
<rect x="411.77" y="47.13" width="8.16" height="9.11" fill="#414487"/>
<rect x="419.93" y="47.13" width="8.16" height="9.11" fill="#463480"/>
<rect x="428.09" y="47.13" width="8.16" height="9.11" fill="#2f6c8e"/>
<rect x="446.6" y="47.13" width="8.59" height="9.11" fill="#2f6c8e"/>
<rect x="455.19" y="47.13" width="8.09" height="9.11" fill="#3b528b"/>
<rect x="463.28" y="47.13" width="8.09" height="9.11" fill="#355f8d"/>
<rect x="471.36" y="47.13" width="8.09" height="9.11" fill="#3b528b"/>
<rect x="479.45" y="47.13" width="8.09" height="9.11" fill="#355f8d"/>
<rect x="503.71" y="47.13" width="9.79" height="9.11" fill="#414487"/>
<rect x="513.5" y="47.13" width="8.27" height="9.11" fill="#25848e"/>
<rect x="521.77" y="47.13" width="8.18" height="9.11" fill="#2a788e"/>
<rect x="529.95" y="47.13" width="8.17" height="9.11" fill="#2a788e"/>
<rect x="538.12" y="47.13" width="8.17" height="9.11" fill="#2a788e"/>
<rect x="546.3" y="47.13" width="8.18" height="9.11" fill="#25848e"/>
<rect x="554.48" y="47.13" width="8.17" height="9.11" fill="#2a788e"/>
<rect x="562.65" y="47.13" width="8.18" height="9.11" fill="#355f8d"/>
<rect x="370.6" y="56.24" width="7.2" height="9.11" fill="#355f8d"/>
<rect x="377.8" y="56.24" width="8.8" height="9.11" fill="#dfe318"/>
<rect x="386.6" y="56.24" width="8.86" height="9.11" fill="#5ec962"/>
<rect x="395.46" y="56.24" width="8.16" height="9.11" fill="#dfe318"/>
<rect x="403.61" y="56.24" width="8.16" height="9.11" fill="#7ad151"/>
<rect x="411.77" y="56.24" width="8.16" height="9.11" fill="#5ec962"/>
<rect x="419.93" y="56.24" width="8.16" height="9.11" fill="#5ec962"/>
<rect x="428.09" y="56.24" width="8.16" height="9.11" fill="#bddf26"/>
<rect x="436.24" y="56.24" width="10.36" height="9.11" fill="#3b528b"/>
<rect x="446.6" y="56.24" width="8.59" height="9.11" fill="#9bd93c"/>
<rect x="455.19" y="56.24" width="8.09" height="9.11" fill="#7ad151"/>
<rect x="463.28" y="56.24" width="8.09" height="9.11" fill="#7ad151"/>
<rect x="471.36" y="56.24" width="8.09" height="9.11" fill="#9bd93c"/>
<rect x="479.45" y="56.24" width="8.09" height="9.11" fill="#5ec962"/>
<rect x="487.54" y="56.24" width="8.09" height="9.11" fill="#f1e51d"/>
<rect x="495.62" y="56.24" width="8.09" height="9.11" fill="#7ad151"/>
<rect x="503.71" y="56.24" width="9.79" height="9.11" fill="#2fb47c"/>
<rect x="513.5" y="56.24" width="8.27" height="9.11" fill="#dfe318"/>
<rect x="521.77" y="56.24" width="8.18" height="9.11" fill="#bddf26"/>
<rect x="529.95" y="56.24" width="8.17" height="9.11" fill="#bddf26"/>
<rect x="538.12" y="56.24" width="8.17" height="9.11" fill="#f1e51d"/>
<rect x="546.3" y="56.24" width="8.18" height="9.11" fill="#7ad151"/>
<rect x="554.48" y="56.24" width="8.17" height="9.11" fill="#bddf26"/>
<rect x="562.65" y="56.24" width="8.18" height="9.11" fill="#bddf26"/>
<rect x="570.83" y="56.24" width="8.88" height="9.11" fill="#bddf26"/>
<rect x="395.46" y="65.34" width="8.16" height="9.11" fill="#414487"/>
<rect x="419.93" y="65.34" width="8.16" height="9.11" fill="#463480"/>
<rect x="446.6" y="65.34" width="8.59" height="9.11" fill="#414487"/>
<rect x="455.19" y="65.34" width="8.09" height="9.11" fill="#414487"/>
<rect x="463.28" y="65.34" width="8.09" height="9.11" fill="#414487"/>
<rect x="471.36" y="65.34" width="8.09" height="9.11" fill="#414487"/>
<rect x="503.71" y="65.34" width="9.79" height="9.11" fill="#414487"/>
<rect x="570.83" y="65.34" width="8.88" height="9.11" fill="#463480"/>
<rect x="377.8" y="74.45" width="8.8" height="9.11" fill="#25848e"/>
<rect x="395.46" y="74.45" width="8.16" height="9.11" fill="#25848e"/>
<rect x="446.6" y="74.45" width="8.59" height="9.11" fill="#355f8d"/>
<rect x="455.19" y="74.45" width="8.09" height="9.11" fill="#25848e"/>
<rect x="463.28" y="74.45" width="8.09" height="9.11" fill="#3b528b"/>
<rect x="471.36" y="74.45" width="8.09" height="9.11" fill="#3b528b"/>
<rect x="479.45" y="74.45" width="8.09" height="9.11" fill="#25848e"/>
<rect x="487.54" y="74.45" width="8.09" height="9.11" fill="#25848e"/>
<rect x="503.71" y="74.45" width="9.79" height="9.11" fill="#3b528b"/>
<rect x="513.5" y="74.45" width="8.27" height="9.11" fill="#21918c"/>
<rect x="521.77" y="74.45" width="8.18" height="9.11" fill="#355f8d"/>
<rect x="529.95" y="74.45" width="8.17" height="9.11" fill="#2f6c8e"/>
<rect x="546.3" y="74.45" width="8.18" height="9.11" fill="#2f6c8e"/>
<rect x="554.48" y="74.45" width="8.17" height="9.11" fill="#2f6c8e"/>
<rect x="570.83" y="74.45" width="8.88" height="9.11" fill="#463480"/>
<rect x="455.19" y="83.56" width="8.09" height="9.11" fill="#2a788e"/>
<rect x="503.71" y="83.56" width="9.79" height="9.11" fill="#2a788e"/>
<rect x="570.83" y="83.56" width="8.88" height="9.11" fill="#2a788e"/>
<rect x="503.71" y="92.66" width="9.79" height="9.11" fill="#463480"/>
<rect x="455.19" y="110.88" width="8.09" height="9.11" fill="#3b528b"/>
<rect x="471.36" y="110.88" width="8.09" height="9.11" fill="#3b528b"/>
<rect x="411.77" y="129.09" width="8.16" height="9.11" fill="#21918c"/>
<rect x="377.8" y="138.19" width="8.8" height="9.11" fill="#414487"/>
<rect x="428.09" y="138.19" width="8.16" height="9.11" fill="#414487"/>
<rect x="463.28" y="138.19" width="8.09" height="9.11" fill="#3b528b"/>
<rect x="513.5" y="138.19" width="8.27" height="9.11" fill="#414487"/>
<rect x="529.95" y="138.19" width="8.17" height="9.11" fill="#3b528b"/>
<rect x="385.6" y="1.6" width="2" height="145.7" fill="#ffffff"/>
<rect x="445.7" y="1.6" width="1.8" height="145.7" fill="#ffffff"/>
<rect x="512.6" y="1.6" width="1.8" height="145.7" fill="#ffffff"/>
<rect x="370.6" y="1.6" width="209.1" height="145.7" fill="none" stroke="#1a1a1a" stroke-width="0.6"/>
<line x1="367.8" y1="6.15" x2="370.6" y2="6.15" stroke="#111" stroke-width="1.1"/>
<text x="364" y="7.81" font-size="4.6" font-weight="bold" fill="#111" stroke="#111" stroke-width="0.25" text-anchor="end">A32</text>
<line x1="367.8" y1="15.26" x2="370.6" y2="15.26" stroke="#111" stroke-width="1.1"/>
<text x="364" y="16.92" font-size="4.6" font-weight="bold" fill="#111" stroke="#111" stroke-width="0.25" text-anchor="end">A33</text>
<line x1="367.8" y1="24.37" x2="370.6" y2="24.37" stroke="#111" stroke-width="1.1"/>
<text x="364" y="26.02" font-size="4.6" font-weight="bold" fill="#111" stroke="#111" stroke-width="0.25" text-anchor="end">A316</text>
<line x1="367.8" y1="33.47" x2="370.6" y2="33.47" stroke="#111" stroke-width="1.1"/>
<text x="364" y="35.13" font-size="4.6" font-weight="bold" fill="#111" stroke="#111" stroke-width="0.25" text-anchor="end">A322</text>
<line x1="367.8" y1="42.58" x2="370.6" y2="42.58" stroke="#111" stroke-width="1.1"/>
<text x="364" y="44.23" font-size="4.6" font-weight="bold" fill="#111" stroke="#111" stroke-width="0.25" text-anchor="end">A328</text>
<line x1="367.8" y1="51.68" x2="370.6" y2="51.68" stroke="#111" stroke-width="1.1"/>
<text x="364" y="53.34" font-size="4.6" font-weight="bold" fill="#111" stroke="#111" stroke-width="0.25" text-anchor="end">A330</text>
<line x1="367.8" y1="60.79" x2="370.6" y2="60.79" stroke="#111" stroke-width="1.1"/>
<text x="364" y="62.45" font-size="4.6" font-weight="bold" fill="#111" stroke="#111" stroke-width="0.25" text-anchor="end">A334</text>
<line x1="367.8" y1="69.9" x2="370.6" y2="69.9" stroke="#111" stroke-width="1.1"/>
<text x="364" y="71.55" font-size="4.6" font-weight="bold" fill="#111" stroke="#111" stroke-width="0.25" text-anchor="end">A345</text>
<line x1="367.8" y1="79" x2="370.6" y2="79" stroke="#111" stroke-width="1.1"/>
<text x="364" y="80.66" font-size="4.6" font-weight="bold" fill="#111" stroke="#111" stroke-width="0.25" text-anchor="end">A352</text>
<line x1="367.8" y1="88.11" x2="370.6" y2="88.11" stroke="#111" stroke-width="1.1"/>
<text x="364" y="89.77" font-size="4.6" font-weight="bold" fill="#111" stroke="#111" stroke-width="0.25" text-anchor="end">B359</text>
<line x1="367.8" y1="97.22" x2="370.6" y2="97.22" stroke="#111" stroke-width="1.1"/>
<text x="364" y="98.87" font-size="4.6" font-weight="bold" fill="#111" stroke="#111" stroke-width="0.25" text-anchor="end">B368</text>
<line x1="367.8" y1="106.32" x2="370.6" y2="106.32" stroke="#111" stroke-width="1.1"/>
<text x="364" y="107.98" font-size="4.6" font-weight="bold" fill="#111" stroke="#111" stroke-width="0.25" text-anchor="end">B369</text>
<line x1="367.8" y1="115.43" x2="370.6" y2="115.43" stroke="#111" stroke-width="1.1"/>
<text x="364" y="117.08" font-size="4.6" font-weight="bold" fill="#111" stroke="#111" stroke-width="0.25" text-anchor="end">DS104</text>
<line x1="367.8" y1="124.53" x2="370.6" y2="124.53" stroke="#111" stroke-width="1.1"/>
<text x="364" y="126.19" font-size="4.6" font-weight="bold" fill="#111" stroke="#111" stroke-width="0.25" text-anchor="end">DS106</text>
<line x1="367.8" y1="133.64" x2="370.6" y2="133.64" stroke="#111" stroke-width="1.1"/>
<text x="364" y="135.3" font-size="4.6" font-weight="bold" fill="#111" stroke="#111" stroke-width="0.25" text-anchor="end">CS143</text>
<line x1="367.8" y1="142.75" x2="370.6" y2="142.75" stroke="#111" stroke-width="1.1"/>
<text x="364" y="144.4" font-size="4.6" font-weight="bold" fill="#111" stroke="#111" stroke-width="0.25" text-anchor="end">DS167</text>
<line x1="374.2" y1="147.3" x2="374.2" y2="149.8" stroke="#111" stroke-width="0.9"/>
<text transform="translate(375.98 151.5) rotate(-90)" font-size="4.95" font-weight="bold" fill="#151515" stroke="#151515" stroke-width="0.35" text-anchor="end" textLength="36.9" lengthAdjust="spacingAndGlyphs">Agar-agar (N°1)</text>
<line x1="381.4" y1="147.3" x2="381.4" y2="149.8" stroke="#111" stroke-width="0.9"/>
<text transform="translate(383.18 151.5) rotate(-90)" font-size="4.95" font-weight="bold" fill="#151515" stroke="#151515" stroke-width="0.35" text-anchor="end" textLength="32.5" lengthAdjust="spacingAndGlyphs">Bennett (N°2)</text>
<line x1="391.38" y1="147.3" x2="391.38" y2="149.8" stroke="#111" stroke-width="0.9"/>
<text transform="translate(393.16 151.5) rotate(-90)" font-size="4.95" font-weight="bold" fill="#151515" stroke="#151515" stroke-width="0.35" text-anchor="end" textLength="38.2" lengthAdjust="spacingAndGlyphs">Glu-YE-BE (N°3)</text>
<line x1="399.54" y1="147.3" x2="399.54" y2="149.8" stroke="#111" stroke-width="0.9"/>
<text transform="translate(401.32 151.5) rotate(-90)" font-size="4.95" font-weight="bold" fill="#151515" stroke="#151515" stroke-width="0.35" text-anchor="end" textLength="40.5" lengthAdjust="spacingAndGlyphs">Glu-YE-Cas (N°4)</text>
<line x1="407.69" y1="147.3" x2="407.69" y2="149.8" stroke="#111" stroke-width="0.9"/>
<text transform="translate(409.47 151.5) rotate(-90)" font-size="4.95" font-weight="bold" fill="#151515" stroke="#151515" stroke-width="0.35" text-anchor="end" textLength="40.9" lengthAdjust="spacingAndGlyphs">Glu-BE-Cas (N°5)</text>
<line x1="415.85" y1="147.3" x2="415.85" y2="149.8" stroke="#111" stroke-width="0.9"/>
<text transform="translate(417.63 151.5) rotate(-90)" font-size="4.95" font-weight="bold" fill="#151515" stroke="#151515" stroke-width="0.35" text-anchor="end" textLength="29.8" lengthAdjust="spacingAndGlyphs">Glu-YE (N°6)</text>
<line x1="424.01" y1="147.3" x2="424.01" y2="149.8" stroke="#111" stroke-width="0.9"/>
<text transform="translate(425.79 151.5) rotate(-90)" font-size="4.95" font-weight="bold" fill="#151515" stroke="#151515" stroke-width="0.35" text-anchor="end" textLength="29.8" lengthAdjust="spacingAndGlyphs">Glu-BE (N°7)</text>
<line x1="432.16" y1="147.3" x2="432.16" y2="149.8" stroke="#111" stroke-width="0.9"/>
<text transform="translate(433.95 151.5) rotate(-90)" font-size="4.95" font-weight="bold" fill="#151515" stroke="#151515" stroke-width="0.35" text-anchor="end" textLength="31.8" lengthAdjust="spacingAndGlyphs">Glu-Cas (N°8)</text>
<line x1="440.32" y1="147.3" x2="440.32" y2="149.8" stroke="#111" stroke-width="0.9"/>
<text transform="translate(442.1 151.5) rotate(-90)" font-size="4.95" font-weight="bold" fill="#151515" stroke="#151515" stroke-width="0.35" text-anchor="end" textLength="21.2" lengthAdjust="spacingAndGlyphs">Glu (N°9)</text>
<line x1="451.14" y1="147.3" x2="451.14" y2="149.8" stroke="#111" stroke-width="0.9"/>
<text transform="translate(452.93 151.5) rotate(-90)" font-size="4.95" font-weight="bold" fill="#151515" stroke="#151515" stroke-width="0.35" text-anchor="end" textLength="44.5" lengthAdjust="spacingAndGlyphs">Fruc-Bennett (N°10)</text>
<line x1="459.23" y1="147.3" x2="459.23" y2="149.8" stroke="#111" stroke-width="0.9"/>
<text transform="translate(461.01 151.5) rotate(-90)" font-size="4.95" font-weight="bold" fill="#151515" stroke="#151515" stroke-width="0.35" text-anchor="end" textLength="41.5" lengthAdjust="spacingAndGlyphs">Fruc-YE-BE (N°11)</text>
<line x1="467.32" y1="147.3" x2="467.32" y2="149.8" stroke="#111" stroke-width="0.9"/>
<text transform="translate(469.1 151.5) rotate(-90)" font-size="4.95" font-weight="bold" fill="#151515" stroke="#151515" stroke-width="0.35" text-anchor="end" textLength="43.5" lengthAdjust="spacingAndGlyphs">Fruc-YE-Cas (N°12)</text>
<line x1="475.41" y1="147.3" x2="475.41" y2="149.8" stroke="#111" stroke-width="0.9"/>
<text transform="translate(477.19 151.5) rotate(-90)" font-size="4.95" font-weight="bold" fill="#151515" stroke="#151515" stroke-width="0.35" text-anchor="end" textLength="44.1" lengthAdjust="spacingAndGlyphs">Fruc-BE-Cas (N°13)</text>
<line x1="483.49" y1="147.3" x2="483.49" y2="149.8" stroke="#111" stroke-width="0.9"/>
<text transform="translate(485.28 151.5) rotate(-90)" font-size="4.95" font-weight="bold" fill="#151515" stroke="#151515" stroke-width="0.35" text-anchor="end" textLength="33.5" lengthAdjust="spacingAndGlyphs">Fruc-YE (N°14)</text>
<line x1="491.58" y1="147.3" x2="491.58" y2="149.8" stroke="#111" stroke-width="0.9"/>
<text transform="translate(493.36 151.5) rotate(-90)" font-size="4.95" font-weight="bold" fill="#151515" stroke="#151515" stroke-width="0.35" text-anchor="end" textLength="33.5" lengthAdjust="spacingAndGlyphs">Fruc-BE (N°15)</text>
<line x1="499.67" y1="147.3" x2="499.67" y2="149.8" stroke="#111" stroke-width="0.9"/>
<text transform="translate(501.45 151.5) rotate(-90)" font-size="4.95" font-weight="bold" fill="#151515" stroke="#151515" stroke-width="0.35" text-anchor="end" textLength="36.5" lengthAdjust="spacingAndGlyphs">Fruc-Cas (N°16)</text>
<line x1="507.76" y1="147.3" x2="507.76" y2="149.8" stroke="#111" stroke-width="0.9"/>
<text transform="translate(509.54 151.5) rotate(-90)" font-size="4.95" font-weight="bold" fill="#151515" stroke="#151515" stroke-width="0.35" text-anchor="end" textLength="25.5" lengthAdjust="spacingAndGlyphs">Fruc (N°17)</text>
<line x1="517.69" y1="147.3" x2="517.69" y2="149.8" stroke="#111" stroke-width="0.9"/>
<text transform="translate(519.47 151.5) rotate(-90)" font-size="4.95" font-weight="bold" fill="#151515" stroke="#151515" stroke-width="0.35" text-anchor="end" textLength="43.5" lengthAdjust="spacingAndGlyphs">Gal-Bennett (N°18)</text>
<line x1="525.86" y1="147.3" x2="525.86" y2="149.8" stroke="#111" stroke-width="0.9"/>
<text transform="translate(527.64 151.5) rotate(-90)" font-size="4.95" font-weight="bold" fill="#151515" stroke="#151515" stroke-width="0.35" text-anchor="end" textLength="40.5" lengthAdjust="spacingAndGlyphs">Gal-YE-BE (N°19)</text>
<line x1="534.04" y1="147.3" x2="534.04" y2="149.8" stroke="#111" stroke-width="0.9"/>
<text transform="translate(535.82 151.5) rotate(-90)" font-size="4.95" font-weight="bold" fill="#151515" stroke="#151515" stroke-width="0.35" text-anchor="end" textLength="43.5" lengthAdjust="spacingAndGlyphs">Gal-YE-Cas (N°20)</text>
<line x1="542.21" y1="147.3" x2="542.21" y2="149.8" stroke="#111" stroke-width="0.9"/>
<text transform="translate(543.99 151.5) rotate(-90)" font-size="4.95" font-weight="bold" fill="#151515" stroke="#151515" stroke-width="0.35" text-anchor="end" textLength="43.5" lengthAdjust="spacingAndGlyphs">Gal-BE-Cas (N°21)</text>
<line x1="550.39" y1="147.3" x2="550.39" y2="149.8" stroke="#111" stroke-width="0.9"/>
<text transform="translate(552.17 151.5) rotate(-90)" font-size="4.95" font-weight="bold" fill="#151515" stroke="#151515" stroke-width="0.35" text-anchor="end" textLength="32.5" lengthAdjust="spacingAndGlyphs">Gal-YE (N°22)</text>
<line x1="558.56" y1="147.3" x2="558.56" y2="149.8" stroke="#111" stroke-width="0.9"/>
<text transform="translate(560.34 151.5) rotate(-90)" font-size="4.95" font-weight="bold" fill="#151515" stroke="#151515" stroke-width="0.35" text-anchor="end" textLength="33.5" lengthAdjust="spacingAndGlyphs">Gal-BE (N°23)</text>
<line x1="566.74" y1="147.3" x2="566.74" y2="149.8" stroke="#111" stroke-width="0.9"/>
<text transform="translate(568.52 151.5) rotate(-90)" font-size="4.95" font-weight="bold" fill="#151515" stroke="#151515" stroke-width="0.35" text-anchor="end" textLength="35.5" lengthAdjust="spacingAndGlyphs">Gal-Cas (N°24)</text>
<line x1="574.91" y1="147.3" x2="574.91" y2="149.8" stroke="#111" stroke-width="0.9"/>
<text transform="translate(576.69 151.5) rotate(-90)" font-size="4.95" font-weight="bold" fill="#151515" stroke="#151515" stroke-width="0.35" text-anchor="end" textLength="24.5" lengthAdjust="spacingAndGlyphs">Gal (N°25)</text>
<line x1="371.6" y1="199.5" x2="376.8" y2="199.5" stroke="#c8c8c8" stroke-width="0.8"/>
<text x="374.3" y="206" font-size="5" font-weight="bold" fill="#1a1a1a" stroke="#1a1a1a" stroke-width="0.4" text-anchor="middle" textLength="7.6" lengthAdjust="spacingAndGlyphs">Ctr-</text>
<line x1="378.8" y1="199.5" x2="385.6" y2="199.5" stroke="#c8c8c8" stroke-width="0.8"/>
<text x="385.3" y="206" font-size="5" font-weight="bold" fill="#1a1a1a" stroke="#1a1a1a" stroke-width="0.4" text-anchor="middle" textLength="7.6" lengthAdjust="spacingAndGlyphs">Ctr+</text>
<line x1="388.3" y1="199.5" x2="443.4" y2="199.5" stroke="#c8c8c8" stroke-width="0.8"/>
<text x="417" y="206" font-size="5.2" font-weight="bold" fill="#1a1a1a" stroke="#1a1a1a" stroke-width="0.45" text-anchor="middle" textLength="31.8" lengthAdjust="spacingAndGlyphs">Glucose media</text>
<line x1="448.1" y1="199.5" x2="510.8" y2="199.5" stroke="#c8c8c8" stroke-width="0.8"/>
<text x="483" y="206" font-size="5.2" font-weight="bold" fill="#1a1a1a" stroke="#1a1a1a" stroke-width="0.45" text-anchor="middle" textLength="33.4" lengthAdjust="spacingAndGlyphs">Fructose media</text>
<line x1="514.6" y1="199.5" x2="578" y2="199.5" stroke="#c8c8c8" stroke-width="0.8"/>
<text x="553.6" y="206" font-size="5.2" font-weight="bold" fill="#1a1a1a" stroke="#1a1a1a" stroke-width="0.45" text-anchor="middle" textLength="36.9" lengthAdjust="spacingAndGlyphs">Galactose media</text>
<text x="481.1" y="221.2" font-size="9.2" font-weight="bold" fill="#111" stroke="#111" stroke-width="0.6" text-anchor="middle">(b)</text>
<rect x="589.6" y="113.48" width="5.3" height="1.92" fill="#450559"/>
<rect x="589.6" y="111.86" width="5.3" height="1.92" fill="#470e61"/>
<rect x="589.6" y="110.25" width="5.3" height="1.92" fill="#48186a"/>
<rect x="589.6" y="108.63" width="5.3" height="1.92" fill="#482071"/>
<rect x="589.6" y="107.01" width="5.3" height="1.92" fill="#482878"/>
<rect x="589.6" y="105.39" width="5.3" height="1.92" fill="#46307e"/>
<rect x="589.6" y="103.78" width="5.3" height="1.92" fill="#453882"/>
<rect x="589.6" y="102.16" width="5.3" height="1.92" fill="#424086"/>
<rect x="589.6" y="100.54" width="5.3" height="1.92" fill="#3f4788"/>
<rect x="589.6" y="98.92" width="5.3" height="1.92" fill="#3d4e8a"/>
<rect x="589.6" y="97.31" width="5.3" height="1.92" fill="#39558c"/>
<rect x="589.6" y="95.69" width="5.3" height="1.92" fill="#365c8d"/>
<rect x="589.6" y="94.07" width="5.3" height="1.92" fill="#33638d"/>
<rect x="589.6" y="92.45" width="5.3" height="1.92" fill="#30698e"/>
<rect x="589.6" y="90.84" width="5.3" height="1.92" fill="#2e6f8e"/>
<rect x="589.6" y="89.22" width="5.3" height="1.92" fill="#2b758e"/>
<rect x="589.6" y="87.6" width="5.3" height="1.92" fill="#297b8e"/>
<rect x="589.6" y="85.98" width="5.3" height="1.92" fill="#26828e"/>
<rect x="589.6" y="84.37" width="5.3" height="1.92" fill="#24878e"/>
<rect x="589.6" y="82.75" width="5.3" height="1.92" fill="#228d8d"/>
<rect x="589.6" y="81.13" width="5.3" height="1.92" fill="#20938c"/>
<rect x="589.6" y="79.52" width="5.3" height="1.92" fill="#1f998a"/>
<rect x="589.6" y="77.9" width="5.3" height="1.92" fill="#1fa088"/>
<rect x="589.6" y="76.28" width="5.3" height="1.92" fill="#21a585"/>
<rect x="589.6" y="74.66" width="5.3" height="1.92" fill="#25ab82"/>
<rect x="589.6" y="73.05" width="5.3" height="1.92" fill="#2cb17e"/>
<rect x="589.6" y="71.43" width="5.3" height="1.92" fill="#34b679"/>
<rect x="589.6" y="69.81" width="5.3" height="1.92" fill="#3fbc73"/>
<rect x="589.6" y="68.19" width="5.3" height="1.92" fill="#4ac16d"/>
<rect x="589.6" y="66.58" width="5.3" height="1.92" fill="#56c667"/>
<rect x="589.6" y="64.96" width="5.3" height="1.92" fill="#65cb5e"/>
<rect x="589.6" y="63.34" width="5.3" height="1.92" fill="#73d056"/>
<rect x="589.6" y="61.72" width="5.3" height="1.92" fill="#84d44b"/>
<rect x="589.6" y="60.11" width="5.3" height="1.92" fill="#93d741"/>
<rect x="589.6" y="58.49" width="5.3" height="1.92" fill="#a2da37"/>
<rect x="589.6" y="56.87" width="5.3" height="1.92" fill="#b5de2b"/>
<rect x="589.6" y="55.25" width="5.3" height="1.92" fill="#c5e021"/>
<rect x="589.6" y="53.64" width="5.3" height="1.92" fill="#d8e219"/>
<rect x="589.6" y="52.02" width="5.3" height="1.92" fill="#e7e419"/>
<rect x="589.6" y="50.4" width="5.3" height="1.92" fill="#f6e620"/>
<line x1="594.9" y1="115.1" x2="596.4" y2="115.1" stroke="#222" stroke-width="0.5"/>
<text x="597.4" y="116.4" font-size="4.2" font-weight="bold" fill="#222" stroke="#222" stroke-width="0.1">0</text>
<line x1="594.9" y1="105.3" x2="596.4" y2="105.3" stroke="#222" stroke-width="0.5"/>
<text x="597.4" y="106.6" font-size="4.2" font-weight="bold" fill="#222" stroke="#222" stroke-width="0.1">10</text>
<line x1="594.9" y1="95.49" x2="596.4" y2="95.49" stroke="#222" stroke-width="0.5"/>
<text x="597.4" y="96.79" font-size="4.2" font-weight="bold" fill="#222" stroke="#222" stroke-width="0.1">20</text>
<line x1="594.9" y1="85.69" x2="596.4" y2="85.69" stroke="#222" stroke-width="0.5"/>
<text x="597.4" y="86.99" font-size="4.2" font-weight="bold" fill="#222" stroke="#222" stroke-width="0.1">30</text>
<line x1="594.9" y1="75.89" x2="596.4" y2="75.89" stroke="#222" stroke-width="0.5"/>
<text x="597.4" y="77.19" font-size="4.2" font-weight="bold" fill="#222" stroke="#222" stroke-width="0.1">40</text>
<line x1="594.9" y1="66.08" x2="596.4" y2="66.08" stroke="#222" stroke-width="0.5"/>
<text x="597.4" y="67.38" font-size="4.2" font-weight="bold" fill="#222" stroke="#222" stroke-width="0.1">50</text>
<line x1="594.9" y1="56.28" x2="596.4" y2="56.28" stroke="#222" stroke-width="0.5"/>
<text x="597.4" y="57.58" font-size="4.2" font-weight="bold" fill="#222" stroke="#222" stroke-width="0.1">60</text>
<text x="592" y="40.4" font-size="4.6" font-weight="bold" fill="#222" stroke="#222" stroke-width="0.12" text-anchor="middle">IZD</text>
<text x="592" y="47" font-size="4.6" font-weight="bold" fill="#222" stroke="#222" stroke-width="0.12" text-anchor="middle">(mm)</text>
</g>
<g>
<rect x="120" y="231.1" width="200.9" height="139.8" fill="#440154"/>
<rect x="128.8" y="257.31" width="9.7" height="8.74" fill="#355f8d"/>
<rect x="155.69" y="257.31" width="8.04" height="8.74" fill="#2f6c8e"/>
<rect x="197" y="257.31" width="8.74" height="8.74" fill="#2f6c8e"/>
<rect x="205.74" y="257.31" width="7.54" height="8.74" fill="#2a788e"/>
<rect x="220.81" y="257.31" width="7.54" height="8.74" fill="#22a884"/>
<rect x="235.89" y="257.31" width="7.54" height="8.74" fill="#f1e51d"/>
<rect x="243.43" y="257.31" width="7.54" height="8.74" fill="#25848e"/>
<rect x="250.96" y="257.31" width="9.29" height="8.74" fill="#9bd93c"/>
<rect x="260.25" y="257.31" width="8.11" height="8.74" fill="#355f8d"/>
<rect x="268.36" y="257.31" width="7.51" height="8.74" fill="#2a788e"/>
<rect x="275.88" y="257.31" width="7.51" height="8.74" fill="#2f6c8e"/>
<rect x="283.39" y="257.31" width="7.51" height="8.74" fill="#2f6c8e"/>
<rect x="290.9" y="257.31" width="7.51" height="8.74" fill="#2f6c8e"/>
<rect x="298.41" y="257.31" width="7.51" height="8.74" fill="#f1e51d"/>
<rect x="305.93" y="257.31" width="7.51" height="8.74" fill="#22a884"/>
<rect x="313.44" y="257.31" width="7.46" height="8.74" fill="#f1e51d"/>
<rect x="128.8" y="266.05" width="9.7" height="8.74" fill="#f1e51d"/>
<rect x="138.5" y="266.05" width="9.14" height="8.74" fill="#7ad151"/>
<rect x="155.69" y="266.05" width="8.04" height="8.74" fill="#21918c"/>
<rect x="163.73" y="266.05" width="8.04" height="8.74" fill="#21918c"/>
<rect x="171.77" y="266.05" width="8.04" height="8.74" fill="#21918c"/>
<rect x="213.27" y="266.05" width="7.54" height="8.74" fill="#3b528b"/>
<rect x="220.81" y="266.05" width="7.54" height="8.74" fill="#3b528b"/>
<rect x="235.89" y="266.05" width="7.54" height="8.74" fill="#414487"/>
<rect x="260.25" y="266.05" width="8.11" height="8.74" fill="#414487"/>
<rect x="268.36" y="266.05" width="7.51" height="8.74" fill="#482475"/>
<rect x="260.25" y="274.79" width="8.11" height="8.74" fill="#463480"/>
<rect x="275.88" y="274.79" width="7.51" height="8.74" fill="#3b528b"/>
<rect x="197" y="283.52" width="8.74" height="8.74" fill="#414487"/>
<rect x="205.74" y="283.52" width="7.54" height="8.74" fill="#414487"/>
<rect x="213.27" y="283.52" width="7.54" height="8.74" fill="#414487"/>
<rect x="228.35" y="283.52" width="7.54" height="8.74" fill="#463480"/>
<rect x="283.39" y="283.52" width="7.51" height="8.74" fill="#2f6c8e"/>
<rect x="298.41" y="283.52" width="7.51" height="8.74" fill="#5ec962"/>
<rect x="128.8" y="292.26" width="9.7" height="8.74" fill="#25848e"/>
<rect x="138.5" y="292.26" width="9.14" height="8.74" fill="#25848e"/>
<rect x="147.64" y="292.26" width="8.04" height="8.74" fill="#1e9c89"/>
<rect x="163.73" y="292.26" width="8.04" height="8.74" fill="#21918c"/>
<rect x="171.77" y="292.26" width="8.04" height="8.74" fill="#2f6c8e"/>
<rect x="179.81" y="292.26" width="8.04" height="8.74" fill="#3b528b"/>
<rect x="197" y="292.26" width="8.74" height="8.74" fill="#1e9c89"/>
<rect x="205.74" y="292.26" width="7.54" height="8.74" fill="#22a884"/>
<rect x="213.27" y="292.26" width="7.54" height="8.74" fill="#2a788e"/>
<rect x="220.81" y="292.26" width="7.54" height="8.74" fill="#1e9c89"/>
<rect x="228.35" y="292.26" width="7.54" height="8.74" fill="#1e9c89"/>
<rect x="243.43" y="292.26" width="7.54" height="8.74" fill="#2a788e"/>
<rect x="268.36" y="292.26" width="7.51" height="8.74" fill="#9bd93c"/>
<rect x="275.88" y="292.26" width="7.51" height="8.74" fill="#355f8d"/>
<rect x="283.39" y="292.26" width="7.51" height="8.74" fill="#21918c"/>
<rect x="290.9" y="292.26" width="7.51" height="8.74" fill="#21918c"/>
<rect x="298.41" y="292.26" width="7.51" height="8.74" fill="#2fb47c"/>
<rect x="313.44" y="292.26" width="7.46" height="8.74" fill="#355f8d"/>
<rect x="205.74" y="301" width="7.54" height="8.74" fill="#414487"/>
<rect x="260.25" y="301" width="8.11" height="8.74" fill="#2f6c8e"/>
<rect x="275.88" y="301" width="7.51" height="8.74" fill="#355f8d"/>
<rect x="290.9" y="301" width="7.51" height="8.74" fill="#414487"/>
<rect x="205.74" y="309.74" width="7.54" height="8.74" fill="#2f6c8e"/>
<rect x="220.81" y="309.74" width="7.54" height="8.74" fill="#355f8d"/>
<rect x="228.35" y="309.74" width="7.54" height="8.74" fill="#3b528b"/>
<rect x="235.89" y="309.74" width="7.54" height="8.74" fill="#2a788e"/>
<rect x="283.39" y="309.74" width="7.51" height="8.74" fill="#2a788e"/>
<rect x="290.9" y="309.74" width="7.51" height="8.74" fill="#2a788e"/>
<rect x="313.44" y="309.74" width="7.46" height="8.74" fill="#2a788e"/>
<rect x="138.5" y="353.42" width="9.14" height="8.74" fill="#2a788e"/>
<rect x="147.64" y="353.42" width="8.04" height="8.74" fill="#22a884"/>
<rect x="155.69" y="353.42" width="8.04" height="8.74" fill="#3b528b"/>
<rect x="163.73" y="353.42" width="8.04" height="8.74" fill="#f1e51d"/>
<rect x="138.5" y="362.16" width="9.14" height="8.74" fill="#22a884"/>
<rect x="155.69" y="362.16" width="8.04" height="8.74" fill="#22a884"/>
<rect x="137.5" y="231.1" width="2" height="139.8" fill="#ffffff"/>
<rect x="196" y="231.1" width="2" height="139.8" fill="#ffffff"/>
<rect x="259.25" y="231.1" width="2" height="139.8" fill="#ffffff"/>
<rect x="120" y="231.1" width="200.9" height="139.8" fill="none" stroke="#1a1a1a" stroke-width="0.6"/>
<line x1="117.2" y1="235.47" x2="120" y2="235.47" stroke="#111" stroke-width="1.1"/>
<text x="114.4" y="237.07" font-size="4.45" font-weight="bold" fill="#111" stroke="#111" stroke-width="0.25" text-anchor="end">A32</text>
<line x1="117.2" y1="244.21" x2="120" y2="244.21" stroke="#111" stroke-width="1.1"/>
<text x="114.4" y="245.81" font-size="4.45" font-weight="bold" fill="#111" stroke="#111" stroke-width="0.25" text-anchor="end">A33</text>
<line x1="117.2" y1="252.94" x2="120" y2="252.94" stroke="#111" stroke-width="1.1"/>
<text x="114.4" y="254.55" font-size="4.45" font-weight="bold" fill="#111" stroke="#111" stroke-width="0.25" text-anchor="end">A316</text>
<line x1="117.2" y1="261.68" x2="120" y2="261.68" stroke="#111" stroke-width="1.1"/>
<text x="114.4" y="263.28" font-size="4.45" font-weight="bold" fill="#111" stroke="#111" stroke-width="0.25" text-anchor="end">A322</text>
<line x1="117.2" y1="270.42" x2="120" y2="270.42" stroke="#111" stroke-width="1.1"/>
<text x="114.4" y="272.02" font-size="4.45" font-weight="bold" fill="#111" stroke="#111" stroke-width="0.25" text-anchor="end">A328</text>
<line x1="117.2" y1="279.16" x2="120" y2="279.16" stroke="#111" stroke-width="1.1"/>
<text x="114.4" y="280.76" font-size="4.45" font-weight="bold" fill="#111" stroke="#111" stroke-width="0.25" text-anchor="end">A330</text>
<line x1="117.2" y1="287.89" x2="120" y2="287.89" stroke="#111" stroke-width="1.1"/>
<text x="114.4" y="289.5" font-size="4.45" font-weight="bold" fill="#111" stroke="#111" stroke-width="0.25" text-anchor="end">A334</text>
<line x1="117.2" y1="296.63" x2="120" y2="296.63" stroke="#111" stroke-width="1.1"/>
<text x="114.4" y="298.23" font-size="4.45" font-weight="bold" fill="#111" stroke="#111" stroke-width="0.25" text-anchor="end">A345</text>
<line x1="117.2" y1="305.37" x2="120" y2="305.37" stroke="#111" stroke-width="1.1"/>
<text x="114.4" y="306.97" font-size="4.45" font-weight="bold" fill="#111" stroke="#111" stroke-width="0.25" text-anchor="end">A352</text>
<line x1="117.2" y1="314.11" x2="120" y2="314.11" stroke="#111" stroke-width="1.1"/>
<text x="114.4" y="315.71" font-size="4.45" font-weight="bold" fill="#111" stroke="#111" stroke-width="0.25" text-anchor="end">B359</text>
<line x1="117.2" y1="322.84" x2="120" y2="322.84" stroke="#111" stroke-width="1.1"/>
<text x="114.4" y="324.45" font-size="4.45" font-weight="bold" fill="#111" stroke="#111" stroke-width="0.25" text-anchor="end">B368</text>
<line x1="117.2" y1="331.58" x2="120" y2="331.58" stroke="#111" stroke-width="1.1"/>
<text x="114.4" y="333.18" font-size="4.45" font-weight="bold" fill="#111" stroke="#111" stroke-width="0.25" text-anchor="end">B369</text>
<line x1="117.2" y1="340.32" x2="120" y2="340.32" stroke="#111" stroke-width="1.1"/>
<text x="114.4" y="341.92" font-size="4.45" font-weight="bold" fill="#111" stroke="#111" stroke-width="0.25" text-anchor="end">DS104</text>
<line x1="117.2" y1="349.06" x2="120" y2="349.06" stroke="#111" stroke-width="1.1"/>
<text x="114.4" y="350.66" font-size="4.45" font-weight="bold" fill="#111" stroke="#111" stroke-width="0.25" text-anchor="end">DS106</text>
<line x1="117.2" y1="357.79" x2="120" y2="357.79" stroke="#111" stroke-width="1.1"/>
<text x="114.4" y="359.4" font-size="4.45" font-weight="bold" fill="#111" stroke="#111" stroke-width="0.25" text-anchor="end">CS143</text>
<line x1="117.2" y1="366.53" x2="120" y2="366.53" stroke="#111" stroke-width="1.1"/>
<text x="114.4" y="368.13" font-size="4.45" font-weight="bold" fill="#111" stroke="#111" stroke-width="0.25" text-anchor="end">DS167</text>
<line x1="124.4" y1="370.9" x2="124.4" y2="373.4" stroke="#111" stroke-width="0.9"/>
<text transform="translate(126.27 373.3) rotate(-90)" font-size="5.2" font-weight="bold" fill="#151515" stroke="#151515" stroke-width="0.35" text-anchor="end" textLength="44.7" lengthAdjust="spacingAndGlyphs">Agar-agar (N°1)</text>
<line x1="133.2" y1="370.9" x2="133.2" y2="373.4" stroke="#111" stroke-width="0.9"/>
<text transform="translate(135.07 373.3) rotate(-90)" font-size="5.2" font-weight="bold" fill="#151515" stroke="#151515" stroke-width="0.35" text-anchor="end" textLength="38.7" lengthAdjust="spacingAndGlyphs">Bennett (N°2)</text>
<line x1="143.62" y1="370.9" x2="143.62" y2="373.4" stroke="#111" stroke-width="0.9"/>
<text transform="translate(145.49 373.3) rotate(-90)" font-size="5.2" font-weight="bold" fill="#151515" stroke="#151515" stroke-width="0.35" text-anchor="end" textLength="40" lengthAdjust="spacingAndGlyphs">Glu-YE-BE (N°3)</text>
<line x1="151.66" y1="370.9" x2="151.66" y2="373.4" stroke="#111" stroke-width="0.9"/>
<text transform="translate(153.54 373.3) rotate(-90)" font-size="5.2" font-weight="bold" fill="#151515" stroke="#151515" stroke-width="0.35" text-anchor="end" textLength="42.7" lengthAdjust="spacingAndGlyphs">Glu-YE-Cas (N°4)</text>
<line x1="159.71" y1="370.9" x2="159.71" y2="373.4" stroke="#111" stroke-width="0.9"/>
<text transform="translate(161.58 373.3) rotate(-90)" font-size="5.2" font-weight="bold" fill="#151515" stroke="#151515" stroke-width="0.35" text-anchor="end" textLength="43" lengthAdjust="spacingAndGlyphs">Glu-BE-Cas (N°5)</text>
<line x1="167.75" y1="370.9" x2="167.75" y2="373.4" stroke="#111" stroke-width="0.9"/>
<text transform="translate(169.62 373.3) rotate(-90)" font-size="5.2" font-weight="bold" fill="#151515" stroke="#151515" stroke-width="0.35" text-anchor="end" textLength="31.4" lengthAdjust="spacingAndGlyphs">Glu-YE (N°6)</text>
<line x1="175.79" y1="370.9" x2="175.79" y2="373.4" stroke="#111" stroke-width="0.9"/>
<text transform="translate(177.66 373.3) rotate(-90)" font-size="5.2" font-weight="bold" fill="#151515" stroke="#151515" stroke-width="0.35" text-anchor="end" textLength="31.7" lengthAdjust="spacingAndGlyphs">Glu-BE (N°7)</text>
<line x1="183.84" y1="370.9" x2="183.84" y2="373.4" stroke="#111" stroke-width="0.9"/>
<text transform="translate(185.71 373.3) rotate(-90)" font-size="5.2" font-weight="bold" fill="#151515" stroke="#151515" stroke-width="0.35" text-anchor="end" textLength="34.7" lengthAdjust="spacingAndGlyphs">Glu-Cas (N°8)</text>
<line x1="191.88" y1="370.9" x2="191.88" y2="373.4" stroke="#111" stroke-width="0.9"/>
<text transform="translate(193.75 373.3) rotate(-90)" font-size="5.2" font-weight="bold" fill="#151515" stroke="#151515" stroke-width="0.35" text-anchor="end" textLength="22.7" lengthAdjust="spacingAndGlyphs">Glu (N°9)</text>
<line x1="201.97" y1="370.9" x2="201.97" y2="373.4" stroke="#111" stroke-width="0.9"/>
<text transform="translate(203.84 373.3) rotate(-90)" font-size="5.2" font-weight="bold" fill="#151515" stroke="#151515" stroke-width="0.35" text-anchor="end" textLength="46.7" lengthAdjust="spacingAndGlyphs">Fruc-Bennett (N°10)</text>
<line x1="209.51" y1="370.9" x2="209.51" y2="373.4" stroke="#111" stroke-width="0.9"/>
<text transform="translate(211.38 373.3) rotate(-90)" font-size="5.2" font-weight="bold" fill="#151515" stroke="#151515" stroke-width="0.35" text-anchor="end" textLength="43.4" lengthAdjust="spacingAndGlyphs">Fruc-YE-BE (N°11)</text>
<line x1="217.04" y1="370.9" x2="217.04" y2="373.4" stroke="#111" stroke-width="0.9"/>
<text transform="translate(218.92 373.3) rotate(-90)" font-size="5.2" font-weight="bold" fill="#151515" stroke="#151515" stroke-width="0.35" text-anchor="end" textLength="45.7" lengthAdjust="spacingAndGlyphs">Fruc-YE-Cas (N°12)</text>
<line x1="224.58" y1="370.9" x2="224.58" y2="373.4" stroke="#111" stroke-width="0.9"/>
<text transform="translate(226.45 373.3) rotate(-90)" font-size="5.2" font-weight="bold" fill="#151515" stroke="#151515" stroke-width="0.35" text-anchor="end" textLength="45.7" lengthAdjust="spacingAndGlyphs">Fruc-BE-Cas (N°13)</text>
<line x1="232.12" y1="370.9" x2="232.12" y2="373.4" stroke="#111" stroke-width="0.9"/>
<text transform="translate(233.99 373.3) rotate(-90)" font-size="5.2" font-weight="bold" fill="#151515" stroke="#151515" stroke-width="0.35" text-anchor="end" textLength="35.6" lengthAdjust="spacingAndGlyphs">Fruc-YE (N°14)</text>
<line x1="239.66" y1="370.9" x2="239.66" y2="373.4" stroke="#111" stroke-width="0.9"/>
<text transform="translate(241.53 373.3) rotate(-90)" font-size="5.2" font-weight="bold" fill="#151515" stroke="#151515" stroke-width="0.35" text-anchor="end" textLength="35.6" lengthAdjust="spacingAndGlyphs">Fruc-BE (N°15)</text>
<line x1="247.19" y1="370.9" x2="247.19" y2="373.4" stroke="#111" stroke-width="0.9"/>
<text transform="translate(249.07 373.3) rotate(-90)" font-size="5.2" font-weight="bold" fill="#151515" stroke="#151515" stroke-width="0.35" text-anchor="end" textLength="38.3" lengthAdjust="spacingAndGlyphs">Fruc-Cas (N°16)</text>
<line x1="254.73" y1="370.9" x2="254.73" y2="373.4" stroke="#111" stroke-width="0.9"/>
<text transform="translate(256.6 373.3) rotate(-90)" font-size="5.2" font-weight="bold" fill="#151515" stroke="#151515" stroke-width="0.35" text-anchor="end" textLength="27.2" lengthAdjust="spacingAndGlyphs">Fruc (N°17)</text>
<line x1="264.61" y1="370.9" x2="264.61" y2="373.4" stroke="#111" stroke-width="0.9"/>
<text transform="translate(266.48 373.3) rotate(-90)" font-size="5.2" font-weight="bold" fill="#151515" stroke="#151515" stroke-width="0.35" text-anchor="end" textLength="45.7" lengthAdjust="spacingAndGlyphs">Gal-Bennett (N°18)</text>
<line x1="272.12" y1="370.9" x2="272.12" y2="373.4" stroke="#111" stroke-width="0.9"/>
<text transform="translate(273.99 373.3) rotate(-90)" font-size="5.2" font-weight="bold" fill="#151515" stroke="#151515" stroke-width="0.35" text-anchor="end" textLength="43" lengthAdjust="spacingAndGlyphs">Gal-YE-BE (N°19)</text>
<line x1="279.63" y1="370.9" x2="279.63" y2="373.4" stroke="#111" stroke-width="0.9"/>
<text transform="translate(281.5 373.3) rotate(-90)" font-size="5.2" font-weight="bold" fill="#151515" stroke="#151515" stroke-width="0.35" text-anchor="end" textLength="44.8" lengthAdjust="spacingAndGlyphs">Gal-YE-Cas (N°20)</text>
<line x1="287.14" y1="370.9" x2="287.14" y2="373.4" stroke="#111" stroke-width="0.9"/>
<text transform="translate(289.02 373.3) rotate(-90)" font-size="5.2" font-weight="bold" fill="#151515" stroke="#151515" stroke-width="0.35" text-anchor="end" textLength="45.7" lengthAdjust="spacingAndGlyphs">Gal-BE-Cas (N°21)</text>
<line x1="294.66" y1="370.9" x2="294.66" y2="373.4" stroke="#111" stroke-width="0.9"/>
<text transform="translate(296.53 373.3) rotate(-90)" font-size="5.2" font-weight="bold" fill="#151515" stroke="#151515" stroke-width="0.35" text-anchor="end" textLength="34.7" lengthAdjust="spacingAndGlyphs">Gal-YE (N°22)</text>
<line x1="302.17" y1="370.9" x2="302.17" y2="373.4" stroke="#111" stroke-width="0.9"/>
<text transform="translate(304.04 373.3) rotate(-90)" font-size="5.2" font-weight="bold" fill="#151515" stroke="#151515" stroke-width="0.35" text-anchor="end" textLength="33.7" lengthAdjust="spacingAndGlyphs">Gal-BE (N°23)</text>
<line x1="309.68" y1="370.9" x2="309.68" y2="373.4" stroke="#111" stroke-width="0.9"/>
<text transform="translate(311.55 373.3) rotate(-90)" font-size="5.2" font-weight="bold" fill="#151515" stroke="#151515" stroke-width="0.35" text-anchor="end" textLength="36.5" lengthAdjust="spacingAndGlyphs">Gal-Cas (N°24)</text>
<line x1="317.19" y1="370.9" x2="317.19" y2="373.4" stroke="#111" stroke-width="0.9"/>
<text transform="translate(319.07 373.3) rotate(-90)" font-size="5.2" font-weight="bold" fill="#151515" stroke="#151515" stroke-width="0.35" text-anchor="end" textLength="25.3" lengthAdjust="spacingAndGlyphs">Gal (N°25)</text>
<line x1="121" y1="422.6" x2="127.8" y2="422.6" stroke="#c8c8c8" stroke-width="0.8"/>
<text x="122.8" y="428.6" font-size="5" font-weight="bold" fill="#1a1a1a" stroke="#1a1a1a" stroke-width="0.4" text-anchor="middle" textLength="7.6" lengthAdjust="spacingAndGlyphs">Ctr-</text>
<line x1="129.8" y1="422.6" x2="137.5" y2="422.6" stroke="#c8c8c8" stroke-width="0.8"/>
<text x="132.5" y="428.6" font-size="5" font-weight="bold" fill="#1a1a1a" stroke="#1a1a1a" stroke-width="0.4" text-anchor="middle" textLength="7.6" lengthAdjust="spacingAndGlyphs">Ctr+</text>
<line x1="140.6" y1="422.6" x2="194.9" y2="422.6" stroke="#c8c8c8" stroke-width="0.8"/>
<text x="163.1" y="428.6" font-size="5.2" font-weight="bold" fill="#1a1a1a" stroke="#1a1a1a" stroke-width="0.45" text-anchor="middle" textLength="29.1" lengthAdjust="spacingAndGlyphs">Glucose media</text>
<line x1="199.2" y1="422.6" x2="257.5" y2="422.6" stroke="#c8c8c8" stroke-width="0.8"/>
<text x="229.6" y="428.6" font-size="5.2" font-weight="bold" fill="#1a1a1a" stroke="#1a1a1a" stroke-width="0.45" text-anchor="middle" textLength="31.7" lengthAdjust="spacingAndGlyphs">Fructose media</text>
<line x1="261.85" y1="422.6" x2="319.95" y2="422.6" stroke="#c8c8c8" stroke-width="0.8"/>
<text x="292.6" y="428.6" font-size="5.2" font-weight="bold" fill="#1a1a1a" stroke="#1a1a1a" stroke-width="0.45" text-anchor="middle" textLength="34.3" lengthAdjust="spacingAndGlyphs">Galactose media</text>
<text x="224.8" y="443.8" font-size="9.2" font-weight="bold" fill="#111" stroke="#111" stroke-width="0.6" text-anchor="middle">(c)</text>
<rect x="327.1" y="333.99" width="4.9" height="1.91" fill="#450559"/>
<rect x="327.1" y="332.38" width="4.9" height="1.91" fill="#470e61"/>
<rect x="327.1" y="330.76" width="4.9" height="1.91" fill="#48186a"/>
<rect x="327.1" y="329.15" width="4.9" height="1.91" fill="#482071"/>
<rect x="327.1" y="327.54" width="4.9" height="1.91" fill="#482878"/>
<rect x="327.1" y="325.93" width="4.9" height="1.91" fill="#46307e"/>
<rect x="327.1" y="324.31" width="4.9" height="1.91" fill="#453882"/>
<rect x="327.1" y="322.7" width="4.9" height="1.91" fill="#424086"/>
<rect x="327.1" y="321.09" width="4.9" height="1.91" fill="#3f4788"/>
<rect x="327.1" y="319.48" width="4.9" height="1.91" fill="#3d4e8a"/>
<rect x="327.1" y="317.86" width="4.9" height="1.91" fill="#39558c"/>
<rect x="327.1" y="316.25" width="4.9" height="1.91" fill="#365c8d"/>
<rect x="327.1" y="314.64" width="4.9" height="1.91" fill="#33638d"/>
<rect x="327.1" y="313.03" width="4.9" height="1.91" fill="#30698e"/>
<rect x="327.1" y="311.41" width="4.9" height="1.91" fill="#2e6f8e"/>
<rect x="327.1" y="309.8" width="4.9" height="1.91" fill="#2b758e"/>
<rect x="327.1" y="308.19" width="4.9" height="1.91" fill="#297b8e"/>
<rect x="327.1" y="306.58" width="4.9" height="1.91" fill="#26828e"/>
<rect x="327.1" y="304.96" width="4.9" height="1.91" fill="#24878e"/>
<rect x="327.1" y="303.35" width="4.9" height="1.91" fill="#228d8d"/>
<rect x="327.1" y="301.74" width="4.9" height="1.91" fill="#20938c"/>
<rect x="327.1" y="300.12" width="4.9" height="1.91" fill="#1f998a"/>
<rect x="327.1" y="298.51" width="4.9" height="1.91" fill="#1fa088"/>
<rect x="327.1" y="296.9" width="4.9" height="1.91" fill="#21a585"/>
<rect x="327.1" y="295.29" width="4.9" height="1.91" fill="#25ab82"/>
<rect x="327.1" y="293.68" width="4.9" height="1.91" fill="#2cb17e"/>
<rect x="327.1" y="292.06" width="4.9" height="1.91" fill="#34b679"/>
<rect x="327.1" y="290.45" width="4.9" height="1.91" fill="#3fbc73"/>
<rect x="327.1" y="288.84" width="4.9" height="1.91" fill="#4ac16d"/>
<rect x="327.1" y="287.23" width="4.9" height="1.91" fill="#56c667"/>
<rect x="327.1" y="285.61" width="4.9" height="1.91" fill="#65cb5e"/>
<rect x="327.1" y="284" width="4.9" height="1.91" fill="#73d056"/>
<rect x="327.1" y="282.39" width="4.9" height="1.91" fill="#84d44b"/>
<rect x="327.1" y="280.78" width="4.9" height="1.91" fill="#93d741"/>
<rect x="327.1" y="279.16" width="4.9" height="1.91" fill="#a2da37"/>
<rect x="327.1" y="277.55" width="4.9" height="1.91" fill="#b5de2b"/>
<rect x="327.1" y="275.94" width="4.9" height="1.91" fill="#c5e021"/>
<rect x="327.1" y="274.33" width="4.9" height="1.91" fill="#d8e219"/>
<rect x="327.1" y="272.71" width="4.9" height="1.91" fill="#e7e419"/>
<rect x="327.1" y="271.1" width="4.9" height="1.91" fill="#f6e620"/>
<line x1="332" y1="335.6" x2="333.5" y2="335.6" stroke="#222" stroke-width="0.5"/>
<text x="334.5" y="336.9" font-size="4.2" font-weight="bold" fill="#222" stroke="#222" stroke-width="0.1">0</text>
<line x1="332" y1="321.58" x2="333.5" y2="321.58" stroke="#222" stroke-width="0.5"/>
<text x="334.5" y="322.88" font-size="4.2" font-weight="bold" fill="#222" stroke="#222" stroke-width="0.1">10</text>
<line x1="332" y1="307.56" x2="333.5" y2="307.56" stroke="#222" stroke-width="0.5"/>
<text x="334.5" y="308.86" font-size="4.2" font-weight="bold" fill="#222" stroke="#222" stroke-width="0.1">20</text>
<line x1="332" y1="293.53" x2="333.5" y2="293.53" stroke="#222" stroke-width="0.5"/>
<text x="334.5" y="294.83" font-size="4.2" font-weight="bold" fill="#222" stroke="#222" stroke-width="0.1">30</text>
<line x1="332" y1="279.51" x2="333.5" y2="279.51" stroke="#222" stroke-width="0.5"/>
<text x="334.5" y="280.81" font-size="4.2" font-weight="bold" fill="#222" stroke="#222" stroke-width="0.1">40</text>
<text x="329.5" y="261.4" font-size="4.6" font-weight="bold" fill="#222" stroke="#222" stroke-width="0.12" text-anchor="middle">IZD</text>
<text x="329.5" y="267.4" font-size="4.6" font-weight="bold" fill="#222" stroke="#222" stroke-width="0.12" text-anchor="middle">(mm)</text>
</g>
<g>
<rect x="369.6" y="229.6" width="212.3" height="138.9" fill="#440154"/>
<rect x="378.85" y="229.6" width="9.85" height="8.17" fill="#2f6c8e"/>
<rect x="398.06" y="229.6" width="8.76" height="8.17" fill="#355f8d"/>
<rect x="406.81" y="229.6" width="8.76" height="8.17" fill="#355f8d"/>
<rect x="433.09" y="229.6" width="8.76" height="8.17" fill="#3b528b"/>
<rect x="452.25" y="229.6" width="8.79" height="8.17" fill="#21918c"/>
<rect x="461.04" y="229.6" width="7.94" height="8.17" fill="#21918c"/>
<rect x="468.98" y="229.6" width="7.94" height="8.17" fill="#44bf70"/>
<rect x="476.91" y="229.6" width="7.94" height="8.17" fill="#21918c"/>
<rect x="484.85" y="229.6" width="7.94" height="8.17" fill="#21918c"/>
<rect x="492.79" y="229.6" width="7.94" height="8.17" fill="#3b528b"/>
<rect x="500.73" y="229.6" width="7.94" height="8.17" fill="#3b528b"/>
<rect x="508.66" y="229.6" width="9.89" height="8.17" fill="#3b528b"/>
<rect x="518.55" y="229.6" width="8.35" height="8.17" fill="#3b528b"/>
<rect x="526.9" y="229.6" width="7.8" height="8.17" fill="#355f8d"/>
<rect x="534.7" y="229.6" width="7.8" height="8.17" fill="#355f8d"/>
<rect x="542.5" y="229.6" width="7.8" height="8.17" fill="#2f6c8e"/>
<rect x="550.3" y="229.6" width="7.8" height="8.17" fill="#355f8d"/>
<rect x="558.1" y="229.6" width="7.8" height="8.17" fill="#414487"/>
<rect x="452.25" y="237.77" width="8.79" height="8.87" fill="#22a884"/>
<rect x="461.04" y="237.77" width="7.94" height="8.87" fill="#1e9c89"/>
<rect x="468.98" y="237.77" width="7.94" height="8.87" fill="#7ad151"/>
<rect x="476.91" y="237.77" width="7.94" height="8.87" fill="#1e9c89"/>
<rect x="484.85" y="237.77" width="7.94" height="8.87" fill="#21918c"/>
<rect x="492.79" y="237.77" width="7.94" height="8.87" fill="#3b528b"/>
<rect x="500.73" y="237.77" width="7.94" height="8.87" fill="#355f8d"/>
<rect x="508.66" y="237.77" width="9.89" height="8.87" fill="#3b528b"/>
<rect x="518.55" y="237.77" width="8.35" height="8.87" fill="#2f6c8e"/>
<rect x="526.9" y="237.77" width="7.8" height="8.87" fill="#3b528b"/>
<rect x="534.7" y="237.77" width="7.8" height="8.87" fill="#2f6c8e"/>
<rect x="542.5" y="237.77" width="7.8" height="8.87" fill="#21918c"/>
<rect x="550.3" y="237.77" width="7.8" height="8.87" fill="#2a788e"/>
<rect x="378.85" y="255.51" width="9.85" height="8.87" fill="#414487"/>
<rect x="484.85" y="255.51" width="7.94" height="8.87" fill="#2a788e"/>
<rect x="492.79" y="255.51" width="7.94" height="8.87" fill="#2a788e"/>
<rect x="500.73" y="255.51" width="7.94" height="8.87" fill="#2a788e"/>
<rect x="398.06" y="273.24" width="8.76" height="8.87" fill="#2f6c8e"/>
<rect x="406.81" y="273.24" width="8.76" height="8.87" fill="#2f6c8e"/>
<rect x="415.57" y="273.24" width="8.76" height="8.87" fill="#414487"/>
<rect x="433.09" y="273.24" width="8.76" height="8.87" fill="#414487"/>
<rect x="452.25" y="273.24" width="8.79" height="8.87" fill="#2f6c8e"/>
<rect x="461.04" y="273.24" width="7.94" height="8.87" fill="#2f6c8e"/>
<rect x="468.98" y="273.24" width="7.94" height="8.87" fill="#2a788e"/>
<rect x="476.91" y="273.24" width="7.94" height="8.87" fill="#2a788e"/>
<rect x="484.85" y="273.24" width="7.94" height="8.87" fill="#2f6c8e"/>
<rect x="492.79" y="273.24" width="7.94" height="8.87" fill="#2a788e"/>
<rect x="500.73" y="273.24" width="7.94" height="8.87" fill="#3b528b"/>
<rect x="508.66" y="273.24" width="9.89" height="8.87" fill="#3b528b"/>
<rect x="518.55" y="273.24" width="8.35" height="8.87" fill="#2f6c8e"/>
<rect x="526.9" y="273.24" width="7.8" height="8.87" fill="#2a788e"/>
<rect x="534.7" y="273.24" width="7.8" height="8.87" fill="#355f8d"/>
<rect x="542.5" y="273.24" width="7.8" height="8.87" fill="#2f6c8e"/>
<rect x="550.3" y="273.24" width="7.8" height="8.87" fill="#2f6c8e"/>
<rect x="558.1" y="273.24" width="7.8" height="8.87" fill="#2f6c8e"/>
<rect x="565.9" y="273.24" width="7.8" height="8.87" fill="#2f6c8e"/>
<rect x="573.7" y="273.24" width="8.2" height="8.87" fill="#355f8d"/>
<rect x="565.9" y="290.98" width="7.8" height="8.87" fill="#3b528b"/>
<rect x="398.06" y="299.85" width="8.76" height="8.87" fill="#3b528b"/>
<rect x="406.81" y="299.85" width="8.76" height="8.87" fill="#3b528b"/>
<rect x="452.25" y="299.85" width="8.79" height="8.87" fill="#2a788e"/>
<rect x="461.04" y="299.85" width="7.94" height="8.87" fill="#2f6c8e"/>
<rect x="468.98" y="299.85" width="7.94" height="8.87" fill="#21918c"/>
<rect x="476.91" y="299.85" width="7.94" height="8.87" fill="#2f6c8e"/>
<rect x="484.85" y="299.85" width="7.94" height="8.87" fill="#2f6c8e"/>
<rect x="492.79" y="299.85" width="7.94" height="8.87" fill="#2f6c8e"/>
<rect x="500.73" y="299.85" width="7.94" height="8.87" fill="#355f8d"/>
<rect x="508.66" y="299.85" width="9.89" height="8.87" fill="#355f8d"/>
<rect x="526.9" y="299.85" width="7.8" height="8.87" fill="#355f8d"/>
<rect x="534.7" y="299.85" width="7.8" height="8.87" fill="#355f8d"/>
<rect x="542.5" y="299.85" width="7.8" height="8.87" fill="#3b528b"/>
<rect x="550.3" y="299.85" width="7.8" height="8.87" fill="#2a788e"/>
<rect x="558.1" y="299.85" width="7.8" height="8.87" fill="#355f8d"/>
<rect x="573.7" y="299.85" width="8.2" height="8.87" fill="#414487"/>
<rect x="369.6" y="317.59" width="9.25" height="8.87" fill="#3b528b"/>
<rect x="378.85" y="317.59" width="9.85" height="8.87" fill="#2fb47c"/>
<rect x="388.7" y="317.59" width="9.36" height="8.87" fill="#3b528b"/>
<rect x="398.06" y="317.59" width="8.76" height="8.87" fill="#3b528b"/>
<rect x="406.81" y="317.59" width="8.76" height="8.87" fill="#3b528b"/>
<rect x="415.57" y="317.59" width="8.76" height="8.87" fill="#2f6c8e"/>
<rect x="433.09" y="317.59" width="8.76" height="8.87" fill="#3b528b"/>
<rect x="452.25" y="317.59" width="8.79" height="8.87" fill="#355f8d"/>
<rect x="461.04" y="317.59" width="7.94" height="8.87" fill="#355f8d"/>
<rect x="468.98" y="317.59" width="7.94" height="8.87" fill="#2f6c8e"/>
<rect x="476.91" y="317.59" width="7.94" height="8.87" fill="#355f8d"/>
<rect x="484.85" y="317.59" width="7.94" height="8.87" fill="#25848e"/>
<rect x="500.73" y="317.59" width="7.94" height="8.87" fill="#25848e"/>
<rect x="508.66" y="317.59" width="9.89" height="8.87" fill="#2a788e"/>
<rect x="518.55" y="317.59" width="8.35" height="8.87" fill="#dfe318"/>
<rect x="526.9" y="317.59" width="7.8" height="8.87" fill="#2fb47c"/>
<rect x="542.5" y="317.59" width="7.8" height="8.87" fill="#bddf26"/>
<rect x="550.3" y="317.59" width="7.8" height="8.87" fill="#22a884"/>
<rect x="565.9" y="317.59" width="7.8" height="8.87" fill="#2fb47c"/>
<rect x="573.7" y="317.59" width="8.2" height="8.87" fill="#355f8d"/>
<rect x="369.6" y="326.46" width="9.25" height="8.87" fill="#3b528b"/>
<rect x="378.85" y="326.46" width="9.85" height="8.87" fill="#3b528b"/>
<rect x="388.7" y="326.46" width="9.36" height="8.87" fill="#2f6c8e"/>
<rect x="398.06" y="326.46" width="8.76" height="8.87" fill="#355f8d"/>
<rect x="406.81" y="326.46" width="8.76" height="8.87" fill="#2a788e"/>
<rect x="415.57" y="326.46" width="8.76" height="8.87" fill="#2f6c8e"/>
<rect x="424.33" y="326.46" width="8.76" height="8.87" fill="#3b528b"/>
<rect x="433.09" y="326.46" width="8.76" height="8.87" fill="#2f6c8e"/>
<rect x="452.25" y="326.46" width="8.79" height="8.87" fill="#2a788e"/>
<rect x="461.04" y="326.46" width="7.94" height="8.87" fill="#21918c"/>
<rect x="468.98" y="326.46" width="7.94" height="8.87" fill="#22a884"/>
<rect x="476.91" y="326.46" width="7.94" height="8.87" fill="#21918c"/>
<rect x="484.85" y="326.46" width="7.94" height="8.87" fill="#1e9c89"/>
<rect x="492.79" y="326.46" width="7.94" height="8.87" fill="#25848e"/>
<rect x="500.73" y="326.46" width="7.94" height="8.87" fill="#1e9c89"/>
<rect x="508.66" y="326.46" width="9.89" height="8.87" fill="#2a788e"/>
<rect x="518.55" y="326.46" width="8.35" height="8.87" fill="#25848e"/>
<rect x="526.9" y="326.46" width="7.8" height="8.87" fill="#2fb47c"/>
<rect x="534.7" y="326.46" width="7.8" height="8.87" fill="#25848e"/>
<rect x="542.5" y="326.46" width="7.8" height="8.87" fill="#2fb47c"/>
<rect x="550.3" y="326.46" width="7.8" height="8.87" fill="#7ad151"/>
<rect x="558.1" y="326.46" width="7.8" height="8.87" fill="#22a884"/>
<rect x="565.9" y="326.46" width="7.8" height="8.87" fill="#21918c"/>
<rect x="573.7" y="326.46" width="8.2" height="8.87" fill="#25848e"/>
<rect x="369.6" y="335.33" width="9.25" height="8.87" fill="#463480"/>
<rect x="378.85" y="335.33" width="9.85" height="8.87" fill="#414487"/>
<rect x="406.81" y="335.33" width="8.76" height="8.87" fill="#3b528b"/>
<rect x="461.04" y="335.33" width="7.94" height="8.87" fill="#2f6c8e"/>
<rect x="468.98" y="335.33" width="7.94" height="8.87" fill="#21918c"/>
<rect x="476.91" y="335.33" width="7.94" height="8.87" fill="#2f6c8e"/>
<rect x="484.85" y="335.33" width="7.94" height="8.87" fill="#21918c"/>
<rect x="492.79" y="335.33" width="7.94" height="8.87" fill="#2f6c8e"/>
<rect x="500.73" y="335.33" width="7.94" height="8.87" fill="#2a788e"/>
<rect x="508.66" y="335.33" width="9.89" height="8.87" fill="#2f6c8e"/>
<rect x="526.9" y="335.33" width="7.8" height="8.87" fill="#dfe318"/>
<rect x="534.7" y="335.33" width="7.8" height="8.87" fill="#2f6c8e"/>
<rect x="542.5" y="335.33" width="7.8" height="8.87" fill="#44bf70"/>
<rect x="550.3" y="335.33" width="7.8" height="8.87" fill="#2f6c8e"/>
<rect x="558.1" y="335.33" width="7.8" height="8.87" fill="#21918c"/>
<rect x="565.9" y="335.33" width="7.8" height="8.87" fill="#21918c"/>
<rect x="378.85" y="344.19" width="9.85" height="8.87" fill="#2a788e"/>
<rect x="406.81" y="344.19" width="8.76" height="8.87" fill="#2a788e"/>
<rect x="461.04" y="344.19" width="7.94" height="8.87" fill="#2a788e"/>
<rect x="468.98" y="344.19" width="7.94" height="8.87" fill="#2f6c8e"/>
<rect x="476.91" y="344.19" width="7.94" height="8.87" fill="#2f6c8e"/>
<rect x="484.85" y="344.19" width="7.94" height="8.87" fill="#1e9c89"/>
<rect x="492.79" y="344.19" width="7.94" height="8.87" fill="#2a788e"/>
<rect x="500.73" y="344.19" width="7.94" height="8.87" fill="#2f6c8e"/>
<rect x="526.9" y="344.19" width="7.8" height="8.87" fill="#dfe318"/>
<rect x="534.7" y="344.19" width="7.8" height="8.87" fill="#2a788e"/>
<rect x="542.5" y="344.19" width="7.8" height="8.87" fill="#bddf26"/>
<rect x="550.3" y="344.19" width="7.8" height="8.87" fill="#2f6c8e"/>
<rect x="558.1" y="344.19" width="7.8" height="8.87" fill="#44bf70"/>
<rect x="565.9" y="344.19" width="7.8" height="8.87" fill="#22a884"/>
<rect x="378.85" y="361.93" width="9.85" height="6.57" fill="#2a788e"/>
<rect x="452.25" y="361.93" width="8.79" height="6.57" fill="#2a788e"/>
<rect x="461.04" y="361.93" width="7.94" height="6.57" fill="#2a788e"/>
<rect x="468.98" y="361.93" width="7.94" height="6.57" fill="#2a788e"/>
<rect x="476.91" y="361.93" width="7.94" height="6.57" fill="#3b528b"/>
<rect x="484.85" y="361.93" width="7.94" height="6.57" fill="#2f6c8e"/>
<rect x="492.79" y="361.93" width="7.94" height="6.57" fill="#355f8d"/>
<rect x="500.73" y="361.93" width="7.94" height="6.57" fill="#3b528b"/>
<rect x="508.66" y="361.93" width="9.89" height="6.57" fill="#414487"/>
<rect x="518.55" y="361.93" width="8.35" height="6.57" fill="#3b528b"/>
<rect x="526.9" y="361.93" width="7.8" height="6.57" fill="#3b528b"/>
<rect x="534.7" y="361.93" width="7.8" height="6.57" fill="#3b528b"/>
<rect x="550.3" y="361.93" width="7.8" height="6.57" fill="#355f8d"/>
<rect x="387.8" y="229.6" width="1.8" height="138.9" fill="#f0e2f4"/>
<rect x="451.4" y="229.6" width="1.7" height="138.9" fill="#f0e2f4"/>
<rect x="517.7" y="229.6" width="1.7" height="138.9" fill="#f0e2f4"/>
<rect x="369.6" y="229.6" width="212.3" height="138.9" fill="none" stroke="#1a1a1a" stroke-width="0.6"/>
<line x1="366.8" y1="233.33" x2="369.6" y2="233.33" stroke="#111" stroke-width="1.1"/>
<text x="364.8" y="234.95" font-size="4.5" font-weight="bold" fill="#111" stroke="#111" stroke-width="0.25" text-anchor="end">A32</text>
<line x1="366.8" y1="242.2" x2="369.6" y2="242.2" stroke="#111" stroke-width="1.1"/>
<text x="364.8" y="243.82" font-size="4.5" font-weight="bold" fill="#111" stroke="#111" stroke-width="0.25" text-anchor="end">A33</text>
<line x1="366.8" y1="251.07" x2="369.6" y2="251.07" stroke="#111" stroke-width="1.1"/>
<text x="364.8" y="252.69" font-size="4.5" font-weight="bold" fill="#111" stroke="#111" stroke-width="0.25" text-anchor="end">A316</text>
<line x1="366.8" y1="259.94" x2="369.6" y2="259.94" stroke="#111" stroke-width="1.1"/>
<text x="364.8" y="261.56" font-size="4.5" font-weight="bold" fill="#111" stroke="#111" stroke-width="0.25" text-anchor="end">A322</text>
<line x1="366.8" y1="268.81" x2="369.6" y2="268.81" stroke="#111" stroke-width="1.1"/>
<text x="364.8" y="270.43" font-size="4.5" font-weight="bold" fill="#111" stroke="#111" stroke-width="0.25" text-anchor="end">A328</text>
<line x1="366.8" y1="277.68" x2="369.6" y2="277.68" stroke="#111" stroke-width="1.1"/>
<text x="364.8" y="279.3" font-size="4.5" font-weight="bold" fill="#111" stroke="#111" stroke-width="0.25" text-anchor="end">A330</text>
<line x1="366.8" y1="286.55" x2="369.6" y2="286.55" stroke="#111" stroke-width="1.1"/>
<text x="364.8" y="288.17" font-size="4.5" font-weight="bold" fill="#111" stroke="#111" stroke-width="0.25" text-anchor="end">A334</text>
<line x1="366.8" y1="295.42" x2="369.6" y2="295.42" stroke="#111" stroke-width="1.1"/>
<text x="364.8" y="297.04" font-size="4.5" font-weight="bold" fill="#111" stroke="#111" stroke-width="0.25" text-anchor="end">A345</text>
<line x1="366.8" y1="304.28" x2="369.6" y2="304.28" stroke="#111" stroke-width="1.1"/>
<text x="364.8" y="305.9" font-size="4.5" font-weight="bold" fill="#111" stroke="#111" stroke-width="0.25" text-anchor="end">A352</text>
<line x1="366.8" y1="313.15" x2="369.6" y2="313.15" stroke="#111" stroke-width="1.1"/>
<text x="364.8" y="314.77" font-size="4.5" font-weight="bold" fill="#111" stroke="#111" stroke-width="0.25" text-anchor="end">B359</text>
<line x1="366.8" y1="322.02" x2="369.6" y2="322.02" stroke="#111" stroke-width="1.1"/>
<text x="364.8" y="323.64" font-size="4.5" font-weight="bold" fill="#111" stroke="#111" stroke-width="0.25" text-anchor="end">B368</text>
<line x1="366.8" y1="330.89" x2="369.6" y2="330.89" stroke="#111" stroke-width="1.1"/>
<text x="364.8" y="332.51" font-size="4.5" font-weight="bold" fill="#111" stroke="#111" stroke-width="0.25" text-anchor="end">B369</text>
<line x1="366.8" y1="339.76" x2="369.6" y2="339.76" stroke="#111" stroke-width="1.1"/>
<text x="364.8" y="341.38" font-size="4.5" font-weight="bold" fill="#111" stroke="#111" stroke-width="0.25" text-anchor="end">DS104</text>
<line x1="366.8" y1="348.63" x2="369.6" y2="348.63" stroke="#111" stroke-width="1.1"/>
<text x="364.8" y="350.25" font-size="4.5" font-weight="bold" fill="#111" stroke="#111" stroke-width="0.25" text-anchor="end">DS106</text>
<line x1="366.8" y1="357.5" x2="369.6" y2="357.5" stroke="#111" stroke-width="1.1"/>
<text x="364.8" y="359.12" font-size="4.5" font-weight="bold" fill="#111" stroke="#111" stroke-width="0.25" text-anchor="end">CS143</text>
<line x1="366.8" y1="366.37" x2="369.6" y2="366.37" stroke="#111" stroke-width="1.1"/>
<text x="364.8" y="367.99" font-size="4.5" font-weight="bold" fill="#111" stroke="#111" stroke-width="0.25" text-anchor="end">DS167</text>
<line x1="374.3" y1="368.5" x2="374.3" y2="371" stroke="#111" stroke-width="0.9"/>
<text transform="translate(376.21 373) rotate(-90)" font-size="5.3" font-weight="bold" fill="#151515" stroke="#151515" stroke-width="0.35" text-anchor="end" textLength="38.3" lengthAdjust="spacingAndGlyphs">Agar-agar (N°1)</text>
<line x1="383.4" y1="368.5" x2="383.4" y2="371" stroke="#111" stroke-width="0.9"/>
<text transform="translate(385.31 373) rotate(-90)" font-size="5.3" font-weight="bold" fill="#151515" stroke="#151515" stroke-width="0.35" text-anchor="end" textLength="33.7" lengthAdjust="spacingAndGlyphs">Bennett (N°2)</text>
<line x1="393.68" y1="368.5" x2="393.68" y2="371" stroke="#111" stroke-width="0.9"/>
<text transform="translate(395.59 373) rotate(-90)" font-size="5.3" font-weight="bold" fill="#151515" stroke="#151515" stroke-width="0.35" text-anchor="end" textLength="41" lengthAdjust="spacingAndGlyphs">Glu-YE-BE (N°3)</text>
<line x1="402.44" y1="368.5" x2="402.44" y2="371" stroke="#111" stroke-width="0.9"/>
<text transform="translate(404.34 373) rotate(-90)" font-size="5.3" font-weight="bold" fill="#151515" stroke="#151515" stroke-width="0.35" text-anchor="end" textLength="43.7" lengthAdjust="spacingAndGlyphs">Glu-YE-Cas (N°4)</text>
<line x1="411.19" y1="368.5" x2="411.19" y2="371" stroke="#111" stroke-width="0.9"/>
<text transform="translate(413.1 373) rotate(-90)" font-size="5.3" font-weight="bold" fill="#151515" stroke="#151515" stroke-width="0.35" text-anchor="end" textLength="43.7" lengthAdjust="spacingAndGlyphs">Glu-BE-Cas (N°5)</text>
<line x1="419.95" y1="368.5" x2="419.95" y2="371" stroke="#111" stroke-width="0.9"/>
<text transform="translate(421.86 373) rotate(-90)" font-size="5.3" font-weight="bold" fill="#151515" stroke="#151515" stroke-width="0.35" text-anchor="end" textLength="31.7" lengthAdjust="spacingAndGlyphs">Glu-YE (N°6)</text>
<line x1="428.71" y1="368.5" x2="428.71" y2="371" stroke="#111" stroke-width="0.9"/>
<text transform="translate(430.62 373) rotate(-90)" font-size="5.3" font-weight="bold" fill="#151515" stroke="#151515" stroke-width="0.35" text-anchor="end" textLength="32" lengthAdjust="spacingAndGlyphs">Glu-BE (N°7)</text>
<line x1="437.46" y1="368.5" x2="437.46" y2="371" stroke="#111" stroke-width="0.9"/>
<text transform="translate(439.37 373) rotate(-90)" font-size="5.3" font-weight="bold" fill="#151515" stroke="#151515" stroke-width="0.35" text-anchor="end" textLength="34.3" lengthAdjust="spacingAndGlyphs">Glu-Cas (N°8)</text>
<line x1="446.22" y1="368.5" x2="446.22" y2="371" stroke="#111" stroke-width="0.9"/>
<text transform="translate(448.13 373) rotate(-90)" font-size="5.3" font-weight="bold" fill="#151515" stroke="#151515" stroke-width="0.35" text-anchor="end" textLength="23" lengthAdjust="spacingAndGlyphs">Glu (N°9)</text>
<line x1="457.07" y1="368.5" x2="457.07" y2="371" stroke="#111" stroke-width="0.9"/>
<text transform="translate(458.98 373) rotate(-90)" font-size="5.3" font-weight="bold" fill="#151515" stroke="#151515" stroke-width="0.35" text-anchor="end" textLength="46.6" lengthAdjust="spacingAndGlyphs">Fruc-Bennett (N°10)</text>
<line x1="465.01" y1="368.5" x2="465.01" y2="371" stroke="#111" stroke-width="0.9"/>
<text transform="translate(466.91 373) rotate(-90)" font-size="5.3" font-weight="bold" fill="#151515" stroke="#151515" stroke-width="0.35" text-anchor="end" textLength="43" lengthAdjust="spacingAndGlyphs">Fruc-YE-BE (N°11)</text>
<line x1="472.94" y1="368.5" x2="472.94" y2="371" stroke="#111" stroke-width="0.9"/>
<text transform="translate(474.85 373) rotate(-90)" font-size="5.3" font-weight="bold" fill="#151515" stroke="#151515" stroke-width="0.35" text-anchor="end" textLength="45.4" lengthAdjust="spacingAndGlyphs">Fruc-YE-Cas (N°12)</text>
<line x1="480.88" y1="368.5" x2="480.88" y2="371" stroke="#111" stroke-width="0.9"/>
<text transform="translate(482.79 373) rotate(-90)" font-size="5.3" font-weight="bold" fill="#151515" stroke="#151515" stroke-width="0.35" text-anchor="end" textLength="46" lengthAdjust="spacingAndGlyphs">Fruc-BE-Cas (N°13)</text>
<line x1="488.82" y1="368.5" x2="488.82" y2="371" stroke="#111" stroke-width="0.9"/>
<text transform="translate(490.73 373) rotate(-90)" font-size="5.3" font-weight="bold" fill="#151515" stroke="#151515" stroke-width="0.35" text-anchor="end" textLength="35" lengthAdjust="spacingAndGlyphs">Fruc-YE (N°14)</text>
<line x1="496.76" y1="368.5" x2="496.76" y2="371" stroke="#111" stroke-width="0.9"/>
<text transform="translate(498.66 373) rotate(-90)" font-size="5.3" font-weight="bold" fill="#151515" stroke="#151515" stroke-width="0.35" text-anchor="end" textLength="35" lengthAdjust="spacingAndGlyphs">Fruc-BE (N°15)</text>
<line x1="504.69" y1="368.5" x2="504.69" y2="371" stroke="#111" stroke-width="0.9"/>
<text transform="translate(506.6 373) rotate(-90)" font-size="5.3" font-weight="bold" fill="#151515" stroke="#151515" stroke-width="0.35" text-anchor="end" textLength="38" lengthAdjust="spacingAndGlyphs">Fruc-Cas (N°16)</text>
<line x1="512.63" y1="368.5" x2="512.63" y2="371" stroke="#111" stroke-width="0.9"/>
<text transform="translate(514.54 373) rotate(-90)" font-size="5.3" font-weight="bold" fill="#151515" stroke="#151515" stroke-width="0.35" text-anchor="end" textLength="27" lengthAdjust="spacingAndGlyphs">Fruc (N°17)</text>
<line x1="523" y1="368.5" x2="523" y2="371" stroke="#111" stroke-width="0.9"/>
<text transform="translate(524.91 373) rotate(-90)" font-size="5.3" font-weight="bold" fill="#151515" stroke="#151515" stroke-width="0.35" text-anchor="end" textLength="45" lengthAdjust="spacingAndGlyphs">Gal-Bennett (N°18)</text>
<line x1="530.8" y1="368.5" x2="530.8" y2="371" stroke="#111" stroke-width="0.9"/>
<text transform="translate(532.71 373) rotate(-90)" font-size="5.3" font-weight="bold" fill="#151515" stroke="#151515" stroke-width="0.35" text-anchor="end" textLength="41.4" lengthAdjust="spacingAndGlyphs">Gal-YE-BE (N°19)</text>
<line x1="538.6" y1="368.5" x2="538.6" y2="371" stroke="#111" stroke-width="0.9"/>
<text transform="translate(540.51 373) rotate(-90)" font-size="5.3" font-weight="bold" fill="#151515" stroke="#151515" stroke-width="0.35" text-anchor="end" textLength="44" lengthAdjust="spacingAndGlyphs">Gal-YE-Cas (N°20)</text>
<line x1="546.4" y1="368.5" x2="546.4" y2="371" stroke="#111" stroke-width="0.9"/>
<text transform="translate(548.31 373) rotate(-90)" font-size="5.3" font-weight="bold" fill="#151515" stroke="#151515" stroke-width="0.35" text-anchor="end" textLength="44.6" lengthAdjust="spacingAndGlyphs">Gal-BE-Cas (N°21)</text>
<line x1="554.2" y1="368.5" x2="554.2" y2="371" stroke="#111" stroke-width="0.9"/>
<text transform="translate(556.11 373) rotate(-90)" font-size="5.3" font-weight="bold" fill="#151515" stroke="#151515" stroke-width="0.35" text-anchor="end" textLength="33" lengthAdjust="spacingAndGlyphs">Gal-YE (N°22)</text>
<line x1="562" y1="368.5" x2="562" y2="371" stroke="#111" stroke-width="0.9"/>
<text transform="translate(563.91 373) rotate(-90)" font-size="5.3" font-weight="bold" fill="#151515" stroke="#151515" stroke-width="0.35" text-anchor="end" textLength="34" lengthAdjust="spacingAndGlyphs">Gal-BE (N°23)</text>
<line x1="569.8" y1="368.5" x2="569.8" y2="371" stroke="#111" stroke-width="0.9"/>
<text transform="translate(571.71 373) rotate(-90)" font-size="5.3" font-weight="bold" fill="#151515" stroke="#151515" stroke-width="0.35" text-anchor="end" textLength="36" lengthAdjust="spacingAndGlyphs">Gal-Cas (N°24)</text>
<line x1="577.6" y1="368.5" x2="577.6" y2="371" stroke="#111" stroke-width="0.9"/>
<text transform="translate(579.51 373) rotate(-90)" font-size="5.3" font-weight="bold" fill="#151515" stroke="#151515" stroke-width="0.35" text-anchor="end" textLength="25" lengthAdjust="spacingAndGlyphs">Gal (N°25)</text>
<line x1="370.6" y1="422.3" x2="377.85" y2="422.3" stroke="#c8c8c8" stroke-width="0.8"/>
<text x="373.6" y="428" font-size="5" font-weight="bold" fill="#1a1a1a" stroke="#1a1a1a" stroke-width="0.4" text-anchor="middle" textLength="7.6" lengthAdjust="spacingAndGlyphs">Ctr-</text>
<line x1="379.85" y1="422.3" x2="387.7" y2="422.3" stroke="#c8c8c8" stroke-width="0.8"/>
<text x="385.1" y="428" font-size="5" font-weight="bold" fill="#1a1a1a" stroke="#1a1a1a" stroke-width="0.4" text-anchor="middle" textLength="7.6" lengthAdjust="spacingAndGlyphs">Ctr+</text>
<line x1="390.3" y1="422.3" x2="449.6" y2="422.3" stroke="#c8c8c8" stroke-width="0.8"/>
<text x="416.1" y="428" font-size="5.2" font-weight="bold" fill="#1a1a1a" stroke="#1a1a1a" stroke-width="0.45" text-anchor="middle" textLength="31.7" lengthAdjust="spacingAndGlyphs">Glucose media</text>
<line x1="454.1" y1="422.3" x2="515.6" y2="422.3" stroke="#c8c8c8" stroke-width="0.8"/>
<text x="486.9" y="428" font-size="5.2" font-weight="bold" fill="#1a1a1a" stroke="#1a1a1a" stroke-width="0.45" text-anchor="middle" textLength="34.3" lengthAdjust="spacingAndGlyphs">Fructose media</text>
<line x1="520.1" y1="422.3" x2="580.5" y2="422.3" stroke="#c8c8c8" stroke-width="0.8"/>
<text x="554.9" y="428" font-size="5.2" font-weight="bold" fill="#1a1a1a" stroke="#1a1a1a" stroke-width="0.45" text-anchor="middle" textLength="37.7" lengthAdjust="spacingAndGlyphs">Galactose media</text>
<text x="482.7" y="444.1" font-size="9.2" font-weight="bold" fill="#111" stroke="#111" stroke-width="0.6" text-anchor="middle">(d)</text>
<rect x="588.9" y="336.88" width="5.3" height="1.81" fill="#450559"/>
<rect x="588.9" y="335.37" width="5.3" height="1.81" fill="#470e61"/>
<rect x="588.9" y="333.85" width="5.3" height="1.81" fill="#48186a"/>
<rect x="588.9" y="332.34" width="5.3" height="1.81" fill="#482071"/>
<rect x="588.9" y="330.82" width="5.3" height="1.81" fill="#482878"/>
<rect x="588.9" y="329.31" width="5.3" height="1.81" fill="#46307e"/>
<rect x="588.9" y="327.79" width="5.3" height="1.81" fill="#453882"/>
<rect x="588.9" y="326.28" width="5.3" height="1.81" fill="#424086"/>
<rect x="588.9" y="324.76" width="5.3" height="1.81" fill="#3f4788"/>
<rect x="588.9" y="323.25" width="5.3" height="1.81" fill="#3d4e8a"/>
<rect x="588.9" y="321.74" width="5.3" height="1.81" fill="#39558c"/>
<rect x="588.9" y="320.22" width="5.3" height="1.81" fill="#365c8d"/>
<rect x="588.9" y="318.7" width="5.3" height="1.81" fill="#33638d"/>
<rect x="588.9" y="317.19" width="5.3" height="1.81" fill="#30698e"/>
<rect x="588.9" y="315.68" width="5.3" height="1.81" fill="#2e6f8e"/>
<rect x="588.9" y="314.16" width="5.3" height="1.81" fill="#2b758e"/>
<rect x="588.9" y="312.64" width="5.3" height="1.81" fill="#297b8e"/>
<rect x="588.9" y="311.13" width="5.3" height="1.81" fill="#26828e"/>
<rect x="588.9" y="309.62" width="5.3" height="1.81" fill="#24878e"/>
<rect x="588.9" y="308.1" width="5.3" height="1.81" fill="#228d8d"/>
<rect x="588.9" y="306.58" width="5.3" height="1.81" fill="#20938c"/>
<rect x="588.9" y="305.07" width="5.3" height="1.81" fill="#1f998a"/>
<rect x="588.9" y="303.56" width="5.3" height="1.81" fill="#1fa088"/>
<rect x="588.9" y="302.04" width="5.3" height="1.81" fill="#21a585"/>
<rect x="588.9" y="300.52" width="5.3" height="1.81" fill="#25ab82"/>
<rect x="588.9" y="299.01" width="5.3" height="1.81" fill="#2cb17e"/>
<rect x="588.9" y="297.5" width="5.3" height="1.81" fill="#34b679"/>
<rect x="588.9" y="295.98" width="5.3" height="1.81" fill="#3fbc73"/>
<rect x="588.9" y="294.47" width="5.3" height="1.81" fill="#4ac16d"/>
<rect x="588.9" y="292.95" width="5.3" height="1.81" fill="#56c667"/>
<rect x="588.9" y="291.44" width="5.3" height="1.81" fill="#65cb5e"/>
<rect x="588.9" y="289.92" width="5.3" height="1.81" fill="#73d056"/>
<rect x="588.9" y="288.41" width="5.3" height="1.81" fill="#84d44b"/>
<rect x="588.9" y="286.89" width="5.3" height="1.81" fill="#93d741"/>
<rect x="588.9" y="285.38" width="5.3" height="1.81" fill="#a2da37"/>
<rect x="588.9" y="283.86" width="5.3" height="1.81" fill="#b5de2b"/>
<rect x="588.9" y="282.35" width="5.3" height="1.81" fill="#c5e021"/>
<rect x="588.9" y="280.83" width="5.3" height="1.81" fill="#d8e219"/>
<rect x="588.9" y="279.31" width="5.3" height="1.81" fill="#e7e419"/>
<rect x="588.9" y="277.8" width="5.3" height="1.81" fill="#f6e620"/>
<line x1="594.2" y1="338.4" x2="595.7" y2="338.4" stroke="#222" stroke-width="0.5"/>
<text x="596.7" y="339.7" font-size="4.2" font-weight="bold" fill="#222" stroke="#222" stroke-width="0.1">0</text>
<line x1="594.2" y1="327.07" x2="595.7" y2="327.07" stroke="#222" stroke-width="0.5"/>
<text x="596.7" y="328.37" font-size="4.2" font-weight="bold" fill="#222" stroke="#222" stroke-width="0.1">10</text>
<line x1="594.2" y1="315.75" x2="595.7" y2="315.75" stroke="#222" stroke-width="0.5"/>
<text x="596.7" y="317.05" font-size="4.2" font-weight="bold" fill="#222" stroke="#222" stroke-width="0.1">20</text>
<line x1="594.2" y1="304.42" x2="595.7" y2="304.42" stroke="#222" stroke-width="0.5"/>
<text x="596.7" y="305.72" font-size="4.2" font-weight="bold" fill="#222" stroke="#222" stroke-width="0.1">30</text>
<line x1="594.2" y1="293.09" x2="595.7" y2="293.09" stroke="#222" stroke-width="0.5"/>
<text x="596.7" y="294.39" font-size="4.2" font-weight="bold" fill="#222" stroke="#222" stroke-width="0.1">40</text>
<line x1="594.2" y1="281.76" x2="595.7" y2="281.76" stroke="#222" stroke-width="0.5"/>
<text x="596.7" y="283.06" font-size="4.2" font-weight="bold" fill="#222" stroke="#222" stroke-width="0.1">50</text>
<text x="591.5" y="268.7" font-size="4.6" font-weight="bold" fill="#222" stroke="#222" stroke-width="0.12" text-anchor="middle">IZD</text>
<text x="591.5" y="274.1" font-size="4.6" font-weight="bold" fill="#222" stroke="#222" stroke-width="0.12" text-anchor="middle">(mm)</text>
</g>
</g></svg></body></html>
